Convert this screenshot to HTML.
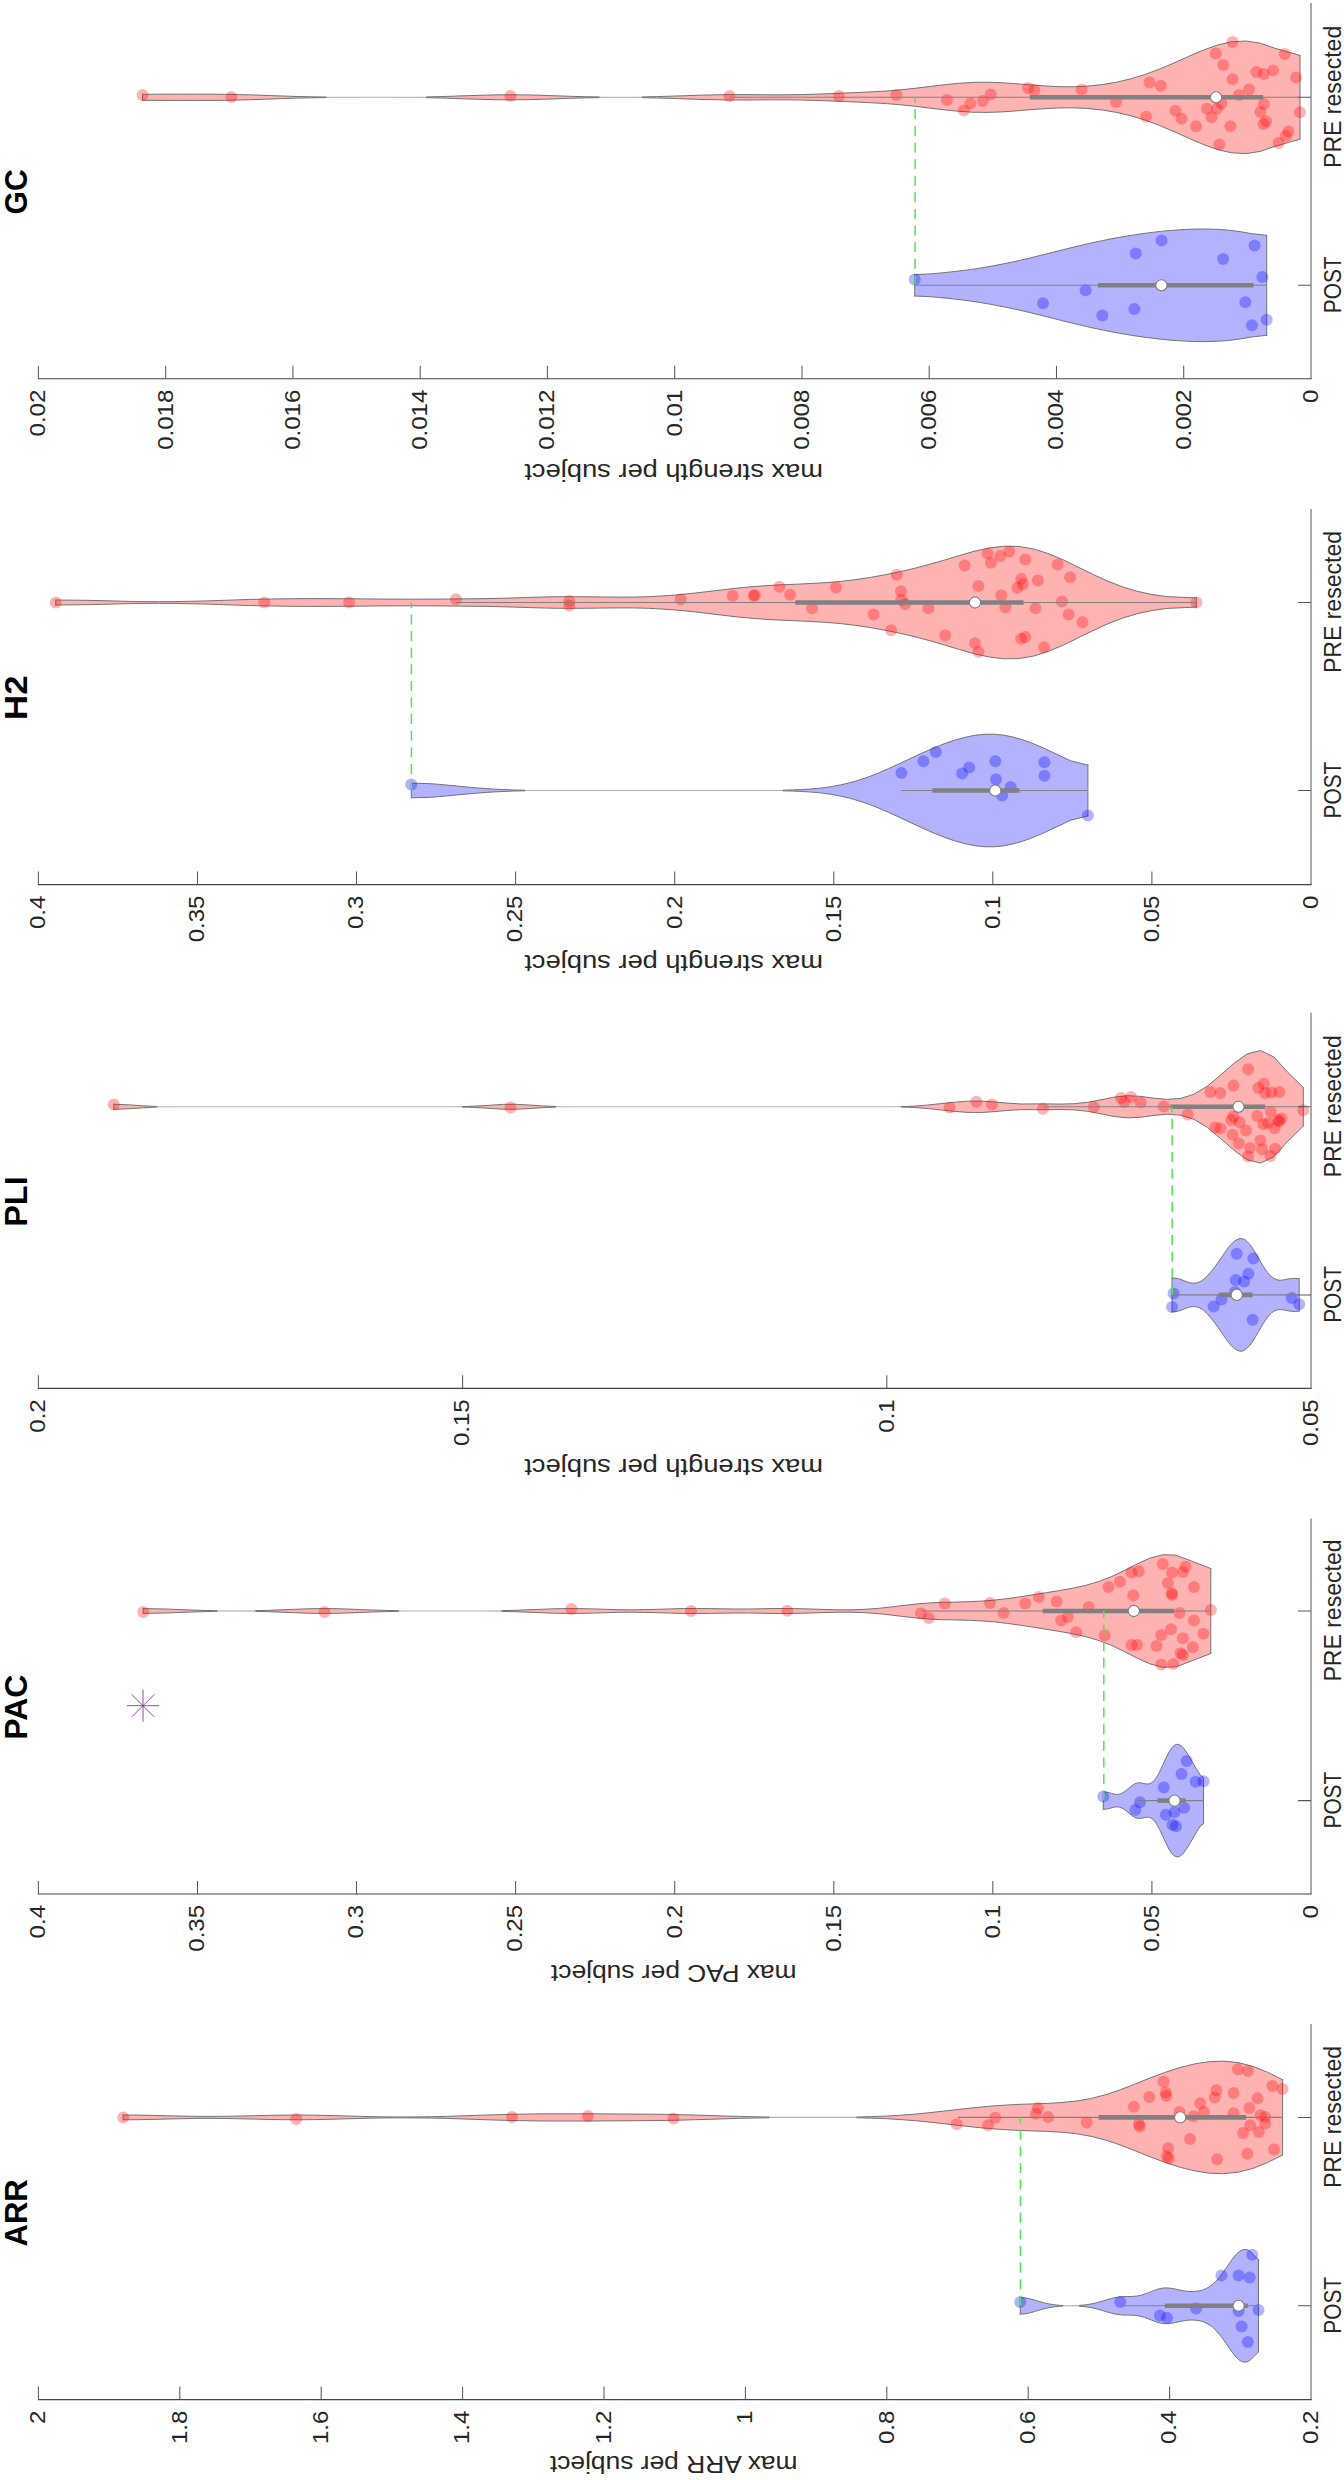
<!DOCTYPE html>
<html><head><meta charset="utf-8"><title>violins</title>
<style>html,body{margin:0;padding:0;background:#fff}svg{display:block}</style></head>
<body>
<svg width="1344" height="2480" viewBox="0 0 1344 2480">
<rect width="1344" height="2480" fill="#fff"/>
<polygon points="914.7,274.6 930.1,273.9 938.4,273.2 946.6,272.4 954.8,271.5 963.1,270.5 971.3,269.4 979.5,268.2 987.8,266.8 996,265.3 1004.2,263.7 1012.5,262 1020.7,260.2 1028.9,258.3 1037.2,256.2 1045.4,254.2 1053.6,252.1 1061.9,250 1070.1,248 1078.3,246 1086.6,244.1 1094.8,242.2 1103.1,240.5 1111.3,238.8 1119.5,237.3 1127.8,235.9 1136,234.6 1144.2,233.4 1152.5,232.4 1160.7,231.4 1168.9,230.6 1177.2,230 1185.4,229.5 1193.6,229.1 1201.9,229 1210.1,229.1 1218.3,229.4 1226.6,230 1234.8,230.9 1243,232.1 1251.3,233.6 1266.7,235.3 1266.7,335.3 1251.3,337 1243,338.5 1234.8,339.7 1226.6,340.6 1218.3,341.2 1210.1,341.5 1201.9,341.6 1193.6,341.5 1185.4,341.1 1177.2,340.6 1168.9,340 1160.7,339.2 1152.5,338.2 1144.2,337.2 1136,336 1127.8,334.7 1119.5,333.3 1111.3,331.8 1103.1,330.1 1094.8,328.4 1086.6,326.5 1078.3,324.6 1070.1,322.6 1061.9,320.6 1053.6,318.5 1045.4,316.4 1037.2,314.4 1028.9,312.3 1020.7,310.4 1012.5,308.6 1004.2,306.9 996,305.3 987.8,303.8 979.5,302.4 971.3,301.2 963.1,300.1 954.8,299.1 946.6,298.2 938.4,297.4 930.1,296.7 914.7,296" fill="#0000ff" fill-opacity="0.3" stroke="none"/>
<path d="M914.7 274.6 L930.1 273.9 L938.4 273.2 L946.6 272.4 L954.8 271.5 L963.1 270.5 L971.3 269.4 L979.5 268.2 L987.8 266.8 L996 265.3 L1004.2 263.7 L1012.5 262 L1020.7 260.2 L1028.9 258.3 L1037.2 256.2 L1045.4 254.2 L1053.6 252.1 L1061.9 250 L1070.1 248 L1078.3 246 L1086.6 244.1 L1094.8 242.2 L1103.1 240.5 L1111.3 238.8 L1119.5 237.3 L1127.8 235.9 L1136 234.6 L1144.2 233.4 L1152.5 232.4 L1160.7 231.4 L1168.9 230.6 L1177.2 230 L1185.4 229.5 L1193.6 229.1 L1201.9 229 L1210.1 229.1 L1218.3 229.4 L1226.6 230 L1234.8 230.9 L1243 232.1 L1251.3 233.6 L1266.7 235.3 M914.7 296 L930.1 296.7 L938.4 297.4 L946.6 298.2 L954.8 299.1 L963.1 300.1 L971.3 301.2 L979.5 302.4 L987.8 303.8 L996 305.3 L1004.2 306.9 L1012.5 308.6 L1020.7 310.4 L1028.9 312.3 L1037.2 314.4 L1045.4 316.4 L1053.6 318.5 L1061.9 320.6 L1070.1 322.6 L1078.3 324.6 L1086.6 326.5 L1094.8 328.4 L1103.1 330.1 L1111.3 331.8 L1119.5 333.3 L1127.8 334.7 L1136 336 L1144.2 337.2 L1152.5 338.2 L1160.7 339.2 L1168.9 340 L1177.2 340.6 L1185.4 341.1 L1193.6 341.5 L1201.9 341.6 L1210.1 341.5 L1218.3 341.2 L1226.6 340.6 L1234.8 339.7 L1243 338.5 L1251.3 337 L1266.7 335.3 M914.7 274.6 V296 M1266.7 235.3 V335.3" fill="none" stroke="#737373" stroke-width="1" stroke-linejoin="round" stroke-linecap="round"/>
<g fill="#0000ff" fill-opacity="0.3">
<circle cx="914.7" cy="279.4" r="6.0"/>
<circle cx="1043" cy="303.3" r="6.0"/>
<circle cx="1085.6" cy="290.2" r="6.0"/>
<circle cx="1102.3" cy="315.4" r="6.0"/>
<circle cx="1135.7" cy="253.5" r="6.0"/>
<circle cx="1134.4" cy="308.9" r="6.0"/>
<circle cx="1161.6" cy="240.4" r="6.0"/>
<circle cx="1223.1" cy="259.1" r="6.0"/>
<circle cx="1254.6" cy="245.4" r="6.0"/>
<circle cx="1262.4" cy="277.1" r="6.0"/>
<circle cx="1245.4" cy="302.3" r="6.0"/>
<circle cx="1251.9" cy="325.2" r="6.0"/>
<circle cx="1266.7" cy="319.7" r="6.0"/>
</g>
<line x1="914.7" y1="285.3" x2="1266.7" y2="285.3" stroke="#808080" stroke-width="1.1"/>
<line x1="1098" y1="285.3" x2="1253.6" y2="285.3" stroke="#808080" stroke-width="4.6"/>
<circle cx="1161.4" cy="285.3" r="5.6" fill="#fff" stroke="#808080" stroke-width="1.1"/>
<polygon points="142.5,94.3 167.8,94.2 182.2,94.2 196.6,94.2 211,94.2 225.3,94.3 239.7,94.6 254.1,95 268.5,95.5 282.8,96 297.2,96.5 311.6,96.8 326,97 340.3,97.2 354.7,97.2 369.1,97.3 383.5,97.3 397.8,97.2 412.2,97.1 426.6,96.9 440.9,96.6 455.3,96.1 469.7,95.6 484.1,95.2 498.4,94.8 512.8,94.8 527.2,94.9 541.6,95.3 555.9,95.8 570.3,96.3 584.7,96.7 599.1,96.9 613.4,97 627.8,97 642.2,96.9 656.6,96.6 670.9,96.2 685.3,95.7 699.7,95.2 714.1,94.9 728.4,94.6 742.8,94.6 757.2,94.7 771.6,94.8 785.9,94.8 800.3,94.6 814.7,94.2 829.1,93.7 843.4,93.1 857.8,92.5 872.2,91.8 886.6,91 900.9,89.8 915.3,88.3 929.7,86.5 944.1,84.8 958.4,83.3 972.8,82.4 987.2,82.2 1001.6,82.7 1015.9,83.7 1030.3,84.9 1044.7,85.9 1059,86.7 1073.4,86.8 1087.8,86.1 1102.2,84.6 1116.5,82.2 1130.9,78.8 1145.3,74.4 1159.7,69 1174,63 1188.4,56.5 1202.8,50.3 1217.2,45.1 1231.5,41.8 1245.9,41 1260.3,43.2 1274.7,48.2 1300,55.4 1300,139.2 1274.7,146.4 1260.3,151.4 1245.9,153.6 1231.5,152.8 1217.2,149.5 1202.8,144.3 1188.4,138.1 1174,131.6 1159.7,125.6 1145.3,120.2 1130.9,115.8 1116.5,112.4 1102.2,110 1087.8,108.5 1073.4,107.8 1059,107.9 1044.7,108.7 1030.3,109.7 1015.9,110.9 1001.6,111.9 987.2,112.4 972.8,112.2 958.4,111.3 944.1,109.8 929.7,108.1 915.3,106.3 900.9,104.8 886.6,103.6 872.2,102.8 857.8,102.1 843.4,101.5 829.1,100.9 814.7,100.4 800.3,100 785.9,99.8 771.6,99.8 757.2,99.9 742.8,100 728.4,100 714.1,99.7 699.7,99.4 685.3,98.9 670.9,98.4 656.6,98 642.2,97.7 627.8,97.6 613.4,97.6 599.1,97.7 584.7,97.9 570.3,98.3 555.9,98.8 541.6,99.3 527.2,99.7 512.8,99.8 498.4,99.8 484.1,99.4 469.7,99 455.3,98.5 440.9,98 426.6,97.7 412.2,97.5 397.8,97.4 383.5,97.3 369.1,97.3 354.7,97.4 340.3,97.4 326,97.6 311.6,97.8 297.2,98.1 282.8,98.6 268.5,99.1 254.1,99.6 239.7,100 225.3,100.3 211,100.4 196.6,100.4 182.2,100.4 167.8,100.4 142.5,100.3" fill="#ff0000" fill-opacity="0.3" stroke="none"/>
<path d="M326 97.3 H426.6 M599.1 97.3 H642.2" fill="none" stroke="#b4b4b4" stroke-width="1.1"/>
<path d="M142.5 94.3 L167.8 94.2 L182.2 94.2 L196.6 94.2 L211 94.2 L225.3 94.3 L239.7 94.6 L254.1 95 L268.5 95.5 L282.8 96 L297.2 96.5 L311.6 96.8 L326 97 M142.5 100.3 L167.8 100.4 L182.2 100.4 L196.6 100.4 L211 100.4 L225.3 100.3 L239.7 100 L254.1 99.6 L268.5 99.1 L282.8 98.6 L297.2 98.1 L311.6 97.8 L326 97.6 M426.6 96.9 L440.9 96.6 L455.3 96.1 L469.7 95.6 L484.1 95.2 L498.4 94.8 L512.8 94.8 L527.2 94.9 L541.6 95.3 L555.9 95.8 L570.3 96.3 L584.7 96.7 L599.1 96.9 M426.6 97.7 L440.9 98 L455.3 98.5 L469.7 99 L484.1 99.4 L498.4 99.8 L512.8 99.8 L527.2 99.7 L541.6 99.3 L555.9 98.8 L570.3 98.3 L584.7 97.9 L599.1 97.7 M642.2 96.9 L656.6 96.6 L670.9 96.2 L685.3 95.7 L699.7 95.2 L714.1 94.9 L728.4 94.6 L742.8 94.6 L757.2 94.7 L771.6 94.8 L785.9 94.8 L800.3 94.6 L814.7 94.2 L829.1 93.7 L843.4 93.1 L857.8 92.5 L872.2 91.8 L886.6 91 L900.9 89.8 L915.3 88.3 L929.7 86.5 L944.1 84.8 L958.4 83.3 L972.8 82.4 L987.2 82.2 L1001.6 82.7 L1015.9 83.7 L1030.3 84.9 L1044.7 85.9 L1059 86.7 L1073.4 86.8 L1087.8 86.1 L1102.2 84.6 L1116.5 82.2 L1130.9 78.8 L1145.3 74.4 L1159.7 69 L1174 63 L1188.4 56.5 L1202.8 50.3 L1217.2 45.1 L1231.5 41.8 L1245.9 41 L1260.3 43.2 L1274.7 48.2 L1300 55.4 M642.2 97.7 L656.6 98 L670.9 98.4 L685.3 98.9 L699.7 99.4 L714.1 99.7 L728.4 100 L742.8 100 L757.2 99.9 L771.6 99.8 L785.9 99.8 L800.3 100 L814.7 100.4 L829.1 100.9 L843.4 101.5 L857.8 102.1 L872.2 102.8 L886.6 103.6 L900.9 104.8 L915.3 106.3 L929.7 108.1 L944.1 109.8 L958.4 111.3 L972.8 112.2 L987.2 112.4 L1001.6 111.9 L1015.9 110.9 L1030.3 109.7 L1044.7 108.7 L1059 107.9 L1073.4 107.8 L1087.8 108.5 L1102.2 110 L1116.5 112.4 L1130.9 115.8 L1145.3 120.2 L1159.7 125.6 L1174 131.6 L1188.4 138.1 L1202.8 144.3 L1217.2 149.5 L1231.5 152.8 L1245.9 153.6 L1260.3 151.4 L1274.7 146.4 L1300 139.2 M142.5 94.3 V100.3 M1300 55.4 V139.2" fill="none" stroke="#737373" stroke-width="1" stroke-linejoin="round" stroke-linecap="round"/>
<g fill="#ff0000" fill-opacity="0.3">
<circle cx="142.5" cy="95" r="6.0"/>
<circle cx="231.3" cy="97" r="6.0"/>
<circle cx="510.4" cy="96" r="6.0"/>
<circle cx="729.5" cy="96" r="6.0"/>
<circle cx="839" cy="96" r="6.0"/>
<circle cx="896.3" cy="95" r="6.0"/>
<circle cx="947" cy="100" r="6.0"/>
<circle cx="963.8" cy="110.6" r="6.0"/>
<circle cx="970.4" cy="103.5" r="6.0"/>
<circle cx="982.7" cy="101" r="6.0"/>
<circle cx="990.7" cy="94.5" r="6.0"/>
<circle cx="1028.1" cy="88" r="6.0"/>
<circle cx="1034.4" cy="90" r="6.0"/>
<circle cx="1081.6" cy="89.5" r="6.0"/>
<circle cx="1232.5" cy="42" r="6.0"/>
<circle cx="1215.7" cy="53.6" r="6.0"/>
<circle cx="1223.2" cy="65" r="6.0"/>
<circle cx="1284.8" cy="53.9" r="6.0"/>
<circle cx="1256.4" cy="72.1" r="6.0"/>
<circle cx="1263.9" cy="73.9" r="6.0"/>
<circle cx="1273.2" cy="70.4" r="6.0"/>
<circle cx="1296.1" cy="77.5" r="6.0"/>
<circle cx="1232.5" cy="79.3" r="6.0"/>
<circle cx="1149.5" cy="82.5" r="6.0"/>
<circle cx="1160.7" cy="85.7" r="6.0"/>
<circle cx="1249.1" cy="89.6" r="6.0"/>
<circle cx="1238.9" cy="95" r="6.0"/>
<circle cx="1116.1" cy="102.1" r="6.0"/>
<circle cx="1221.4" cy="103.6" r="6.0"/>
<circle cx="1206.8" cy="108.8" r="6.0"/>
<circle cx="1217" cy="108.8" r="6.0"/>
<circle cx="1175.4" cy="110.7" r="6.0"/>
<circle cx="1211.6" cy="117.3" r="6.0"/>
<circle cx="1146.1" cy="116.8" r="6.0"/>
<circle cx="1181.6" cy="118.8" r="6.0"/>
<circle cx="1196.1" cy="126.3" r="6.0"/>
<circle cx="1230.4" cy="126.3" r="6.0"/>
<circle cx="1219.3" cy="144.6" r="6.0"/>
<circle cx="1263.9" cy="103.9" r="6.0"/>
<circle cx="1260.4" cy="112" r="6.0"/>
<circle cx="1266.1" cy="121.3" r="6.0"/>
<circle cx="1263.4" cy="124.1" r="6.0"/>
<circle cx="1300" cy="112.3" r="6.0"/>
<circle cx="1288.4" cy="131.6" r="6.0"/>
<circle cx="1285.7" cy="136.1" r="6.0"/>
<circle cx="1278.6" cy="142.9" r="6.0"/>
</g>
<line x1="729.5" y1="97.3" x2="1300" y2="97.3" stroke="#808080" stroke-width="1.1"/>
<line x1="1029.7" y1="97.3" x2="1263.2" y2="97.3" stroke="#808080" stroke-width="4.6"/>
<circle cx="1216.1" cy="97.3" r="5.6" fill="#fff" stroke="#808080" stroke-width="1.1"/>
<line x1="915.1" y1="285.3" x2="915.1" y2="97.3" stroke="#52e452" stroke-width="1.5" stroke-dasharray="10 6.6"/>
<path d="M1311 378.7 V3.1" fill="none" stroke="#959595" stroke-width="1.6"/>
<path d="M37.9 378.7 H1311.7" fill="none" stroke="#444" stroke-width="1.15"/>
<path d="M38.4 378.7 v-13 M165.7 378.7 v-13 M292.9 378.7 v-13 M420.2 378.7 v-13 M547.4 378.7 v-13 M674.7 378.7 v-13 M802 378.7 v-13 M929.2 378.7 v-13 M1056.5 378.7 v-13 M1183.7 378.7 v-13 M1311 97.3 h-13 M1311 285.3 h-13" fill="none" stroke="#5a5a5a" stroke-width="1.05"/>
<g font-family="Liberation Sans, sans-serif" font-size="22.1" fill="#262626">
<text transform="translate(45.2 389.7) rotate(-90)" x="-46.7" y="0" textLength="46.7" lengthAdjust="spacingAndGlyphs">0.02</text>
<text transform="translate(172.5 389.7) rotate(-90)" x="-60.1" y="0" textLength="60.1" lengthAdjust="spacingAndGlyphs">0.018</text>
<text transform="translate(299.7 389.7) rotate(-90)" x="-60.1" y="0" textLength="60.1" lengthAdjust="spacingAndGlyphs">0.016</text>
<text transform="translate(427 389.7) rotate(-90)" x="-60.1" y="0" textLength="60.1" lengthAdjust="spacingAndGlyphs">0.014</text>
<text transform="translate(554.2 389.7) rotate(-90)" x="-60.1" y="0" textLength="60.1" lengthAdjust="spacingAndGlyphs">0.012</text>
<text transform="translate(681.5 389.7) rotate(-90)" x="-46.7" y="0" textLength="46.7" lengthAdjust="spacingAndGlyphs">0.01</text>
<text transform="translate(808.8 389.7) rotate(-90)" x="-60.1" y="0" textLength="60.1" lengthAdjust="spacingAndGlyphs">0.008</text>
<text transform="translate(936 389.7) rotate(-90)" x="-60.1" y="0" textLength="60.1" lengthAdjust="spacingAndGlyphs">0.006</text>
<text transform="translate(1063.3 389.7) rotate(-90)" x="-60.1" y="0" textLength="60.1" lengthAdjust="spacingAndGlyphs">0.004</text>
<text transform="translate(1190.5 389.7) rotate(-90)" x="-60.1" y="0" textLength="60.1" lengthAdjust="spacingAndGlyphs">0.002</text>
<text transform="translate(1317.8 389.7) rotate(-90)" x="-13.4" y="0" textLength="13.4" lengthAdjust="spacingAndGlyphs">0</text>
<text font-size="23.5" transform="translate(1340.8 284.8) rotate(-90)" x="-28.4" y="0" textLength="56.7" lengthAdjust="spacingAndGlyphs">POST</text>
<text font-size="23.5" transform="translate(1340.8 96.8) rotate(-90)" x="-71.1" y="0" textLength="142.1" lengthAdjust="spacingAndGlyphs">PRE resected</text>
</g>
<text font-family="Liberation Sans, sans-serif" font-size="24.8" fill="#262626" transform="translate(673.7 463.7) rotate(180)" x="-149.3" y="0" textLength="298.6" lengthAdjust="spacingAndGlyphs">max strength per subject</text>
<text font-family="Liberation Sans, sans-serif" font-weight="bold" font-size="31.6" fill="#000" transform="translate(26.5 191.9) rotate(-90)" x="-22.5" y="0" textLength="45.1" lengthAdjust="spacingAndGlyphs">GC</text>
<polygon points="411.3,783.2 428.8,783.6 438.4,784.3 448,785.2 457.5,786.1 467.1,787 476.7,787.9 486.3,788.6 495.8,789.2 505.4,789.6 515,790 524.6,790.2 534.1,790.3 543.7,790.4 553.3,790.4 562.9,790.5 572.4,790.5 582,790.5 591.6,790.5 601.2,790.5 610.7,790.5 620.3,790.5 629.9,790.5 639.5,790.5 649.1,790.5 658.6,790.5 668.2,790.5 677.8,790.5 687.4,790.5 696.9,790.5 706.5,790.5 716.1,790.5 725.7,790.5 735.2,790.5 744.8,790.5 754.4,790.5 764,790.4 773.5,790.3 783.1,790.2 792.7,789.9 802.3,789.5 811.8,788.9 821.4,788 831,786.7 840.6,784.9 850.1,782.7 859.7,779.9 869.3,776.6 878.9,772.8 888.5,768.7 898,764.3 907.6,759.8 917.2,755.3 926.8,751 936.3,746.9 945.9,743.1 955.5,739.9 965.1,737.3 974.6,735.3 984.2,734.3 993.8,734.2 1003.4,735.1 1012.9,737 1022.5,739.7 1032.1,743.2 1041.7,747.2 1051.2,751.6 1060.8,756.1 1070.4,760.7 1087.9,765.1 1087.9,815.9 1070.4,820.3 1060.8,824.9 1051.2,829.4 1041.7,833.8 1032.1,837.8 1022.5,841.3 1012.9,844 1003.4,845.9 993.8,846.8 984.2,846.7 974.6,845.7 965.1,843.7 955.5,841.1 945.9,837.9 936.3,834.1 926.8,830 917.2,825.7 907.6,821.2 898,816.7 888.5,812.3 878.9,808.2 869.3,804.4 859.7,801.1 850.1,798.3 840.6,796.1 831,794.3 821.4,793 811.8,792.1 802.3,791.5 792.7,791.1 783.1,790.8 773.5,790.7 764,790.6 754.4,790.5 744.8,790.5 735.2,790.5 725.7,790.5 716.1,790.5 706.5,790.5 696.9,790.5 687.4,790.5 677.8,790.5 668.2,790.5 658.6,790.5 649.1,790.5 639.5,790.5 629.9,790.5 620.3,790.5 610.7,790.5 601.2,790.5 591.6,790.5 582,790.5 572.4,790.5 562.9,790.5 553.3,790.6 543.7,790.6 534.1,790.7 524.6,790.8 515,791 505.4,791.4 495.8,791.8 486.3,792.4 476.7,793.1 467.1,794 457.5,794.9 448,795.8 438.4,796.7 428.8,797.4 411.3,797.8" fill="#0000ff" fill-opacity="0.3" stroke="none"/>
<path d="M524.6 790.5 H783.1" fill="none" stroke="#b4b4b4" stroke-width="1.1"/>
<path d="M411.3 783.2 L428.8 783.6 L438.4 784.3 L448 785.2 L457.5 786.1 L467.1 787 L476.7 787.9 L486.3 788.6 L495.8 789.2 L505.4 789.6 L515 790 L524.6 790.2 M411.3 797.8 L428.8 797.4 L438.4 796.7 L448 795.8 L457.5 794.9 L467.1 794 L476.7 793.1 L486.3 792.4 L495.8 791.8 L505.4 791.4 L515 791 L524.6 790.8 M783.1 790.2 L792.7 789.9 L802.3 789.5 L811.8 788.9 L821.4 788 L831 786.7 L840.6 784.9 L850.1 782.7 L859.7 779.9 L869.3 776.6 L878.9 772.8 L888.5 768.7 L898 764.3 L907.6 759.8 L917.2 755.3 L926.8 751 L936.3 746.9 L945.9 743.1 L955.5 739.9 L965.1 737.3 L974.6 735.3 L984.2 734.3 L993.8 734.2 L1003.4 735.1 L1012.9 737 L1022.5 739.7 L1032.1 743.2 L1041.7 747.2 L1051.2 751.6 L1060.8 756.1 L1070.4 760.7 L1087.9 765.1 M783.1 790.8 L792.7 791.1 L802.3 791.5 L811.8 792.1 L821.4 793 L831 794.3 L840.6 796.1 L850.1 798.3 L859.7 801.1 L869.3 804.4 L878.9 808.2 L888.5 812.3 L898 816.7 L907.6 821.2 L917.2 825.7 L926.8 830 L936.3 834.1 L945.9 837.9 L955.5 841.1 L965.1 843.7 L974.6 845.7 L984.2 846.7 L993.8 846.8 L1003.4 845.9 L1012.9 844 L1022.5 841.3 L1032.1 837.8 L1041.7 833.8 L1051.2 829.4 L1060.8 824.9 L1070.4 820.3 L1087.9 815.9 M411.3 783.2 V797.8 M1087.9 765.1 V815.9" fill="none" stroke="#737373" stroke-width="1" stroke-linejoin="round" stroke-linecap="round"/>
<g fill="#0000ff" fill-opacity="0.3">
<circle cx="411.3" cy="784.5" r="6.0"/>
<circle cx="901.4" cy="773.1" r="6.0"/>
<circle cx="923.4" cy="761.2" r="6.0"/>
<circle cx="935.8" cy="752.1" r="6.0"/>
<circle cx="962.1" cy="773.6" r="6.0"/>
<circle cx="969.2" cy="767.6" r="6.0"/>
<circle cx="995.3" cy="761.2" r="6.0"/>
<circle cx="996" cy="779.4" r="6.0"/>
<circle cx="1002.1" cy="795.4" r="6.0"/>
<circle cx="1010.7" cy="787" r="6.0"/>
<circle cx="1044.4" cy="762.2" r="6.0"/>
<circle cx="1044.4" cy="775.7" r="6.0"/>
<circle cx="1087.9" cy="815.6" r="6.0"/>
</g>
<line x1="901.4" y1="790.5" x2="1087.4" y2="790.5" stroke="#808080" stroke-width="1.1"/>
<line x1="932.5" y1="790.5" x2="1019.6" y2="790.5" stroke="#808080" stroke-width="4.6"/>
<circle cx="995.3" cy="790.5" r="5.6" fill="#fff" stroke="#808080" stroke-width="1.1"/>
<polygon points="55.8,600 85.4,600.3 100.2,600.6 115,601 129.8,601.4 144.6,601.6 159.4,601.7 174.3,601.6 189.1,601.3 203.9,601 218.7,600.5 233.5,600 248.3,599.5 263.1,599.2 278,598.9 292.8,598.7 307.6,598.6 322.4,598.6 337.2,598.7 352,598.8 366.8,598.9 381.7,599.1 396.5,599.1 411.3,599.2 426.1,599.1 440.9,599.1 455.7,598.9 470.5,598.8 485.4,598.6 500.2,598.3 515,597.9 529.8,597.4 544.6,597 559.4,596.7 574.2,596.7 589.1,596.8 603.9,597 618.7,597.1 633.5,597.1 648.3,596.7 663.1,595.9 678,594.8 692.8,593.3 707.6,591.6 722.4,589.8 737.2,588.1 752,586.7 766.8,585.6 781.7,584.8 796.5,584.2 811.3,583.5 826.1,582.6 840.9,581.4 855.7,579.6 870.5,577.4 885.4,574.7 900.2,571.7 915,568.2 929.8,564.3 944.6,560 959.4,555.5 974.2,551.3 989.1,548 1003.9,546.2 1018.7,546.4 1033.5,548.9 1048.3,553.6 1063.1,559.8 1077.9,567 1092.8,574.3 1107.6,581.1 1122.4,586.8 1137.2,591.3 1152,594.5 1166.8,596.6 1196.4,597.9 1196.4,607.1 1166.8,608.4 1152,610.5 1137.2,613.7 1122.4,618.2 1107.6,623.9 1092.8,630.7 1077.9,638 1063.1,645.2 1048.3,651.4 1033.5,656.1 1018.7,658.6 1003.9,658.8 989.1,657 974.2,653.7 959.4,649.5 944.6,645 929.8,640.7 915,636.8 900.2,633.3 885.4,630.3 870.5,627.6 855.7,625.4 840.9,623.6 826.1,622.4 811.3,621.5 796.5,620.8 781.7,620.2 766.8,619.4 752,618.3 737.2,616.9 722.4,615.2 707.6,613.4 692.8,611.7 678,610.2 663.1,609.1 648.3,608.3 633.5,607.9 618.7,607.9 603.9,608 589.1,608.2 574.2,608.3 559.4,608.3 544.6,608 529.8,607.6 515,607.1 500.2,606.7 485.4,606.4 470.5,606.2 455.7,606.1 440.9,605.9 426.1,605.9 411.3,605.8 396.5,605.9 381.7,605.9 366.8,606.1 352,606.2 337.2,606.3 322.4,606.4 307.6,606.4 292.8,606.3 278,606.1 263.1,605.8 248.3,605.5 233.5,605 218.7,604.5 203.9,604 189.1,603.7 174.3,603.4 159.4,603.3 144.6,603.4 129.8,603.6 115,604 100.2,604.4 85.4,604.7 55.8,605" fill="#ff0000" fill-opacity="0.3" stroke="none"/>
<path d="M55.8 600 L85.4 600.3 L100.2 600.6 L115 601 L129.8 601.4 L144.6 601.6 L159.4 601.7 L174.3 601.6 L189.1 601.3 L203.9 601 L218.7 600.5 L233.5 600 L248.3 599.5 L263.1 599.2 L278 598.9 L292.8 598.7 L307.6 598.6 L322.4 598.6 L337.2 598.7 L352 598.8 L366.8 598.9 L381.7 599.1 L396.5 599.1 L411.3 599.2 L426.1 599.1 L440.9 599.1 L455.7 598.9 L470.5 598.8 L485.4 598.6 L500.2 598.3 L515 597.9 L529.8 597.4 L544.6 597 L559.4 596.7 L574.2 596.7 L589.1 596.8 L603.9 597 L618.7 597.1 L633.5 597.1 L648.3 596.7 L663.1 595.9 L678 594.8 L692.8 593.3 L707.6 591.6 L722.4 589.8 L737.2 588.1 L752 586.7 L766.8 585.6 L781.7 584.8 L796.5 584.2 L811.3 583.5 L826.1 582.6 L840.9 581.4 L855.7 579.6 L870.5 577.4 L885.4 574.7 L900.2 571.7 L915 568.2 L929.8 564.3 L944.6 560 L959.4 555.5 L974.2 551.3 L989.1 548 L1003.9 546.2 L1018.7 546.4 L1033.5 548.9 L1048.3 553.6 L1063.1 559.8 L1077.9 567 L1092.8 574.3 L1107.6 581.1 L1122.4 586.8 L1137.2 591.3 L1152 594.5 L1166.8 596.6 L1196.4 597.9 M55.8 605 L85.4 604.7 L100.2 604.4 L115 604 L129.8 603.6 L144.6 603.4 L159.4 603.3 L174.3 603.4 L189.1 603.7 L203.9 604 L218.7 604.5 L233.5 605 L248.3 605.5 L263.1 605.8 L278 606.1 L292.8 606.3 L307.6 606.4 L322.4 606.4 L337.2 606.3 L352 606.2 L366.8 606.1 L381.7 605.9 L396.5 605.9 L411.3 605.8 L426.1 605.9 L440.9 605.9 L455.7 606.1 L470.5 606.2 L485.4 606.4 L500.2 606.7 L515 607.1 L529.8 607.6 L544.6 608 L559.4 608.3 L574.2 608.3 L589.1 608.2 L603.9 608 L618.7 607.9 L633.5 607.9 L648.3 608.3 L663.1 609.1 L678 610.2 L692.8 611.7 L707.6 613.4 L722.4 615.2 L737.2 616.9 L752 618.3 L766.8 619.4 L781.7 620.2 L796.5 620.8 L811.3 621.5 L826.1 622.4 L840.9 623.6 L855.7 625.4 L870.5 627.6 L885.4 630.3 L900.2 633.3 L915 636.8 L929.8 640.7 L944.6 645 L959.4 649.5 L974.2 653.7 L989.1 657 L1003.9 658.8 L1018.7 658.6 L1033.5 656.1 L1048.3 651.4 L1063.1 645.2 L1077.9 638 L1092.8 630.7 L1107.6 623.9 L1122.4 618.2 L1137.2 613.7 L1152 610.5 L1166.8 608.4 L1196.4 607.1 M55.8 600 V605 M1196.4 597.9 V607.1" fill="none" stroke="#737373" stroke-width="1" stroke-linejoin="round" stroke-linecap="round"/>
<g fill="#ff0000" fill-opacity="0.3">
<circle cx="55.8" cy="602.5" r="6.0"/>
<circle cx="264.3" cy="602.5" r="6.0"/>
<circle cx="349.1" cy="602.5" r="6.0"/>
<circle cx="456" cy="599.3" r="6.0"/>
<circle cx="569.3" cy="601" r="6.0"/>
<circle cx="569.3" cy="605.5" r="6.0"/>
<circle cx="680.7" cy="599.3" r="6.0"/>
<circle cx="732.7" cy="595.7" r="6.0"/>
<circle cx="753.6" cy="595.7" r="6.0"/>
<circle cx="754.8" cy="595" r="6.0"/>
<circle cx="779.5" cy="586.7" r="6.0"/>
<circle cx="790.1" cy="594.8" r="6.0"/>
<circle cx="812" cy="608.3" r="6.0"/>
<circle cx="836" cy="587.4" r="6.0"/>
<circle cx="873.6" cy="614.5" r="6.0"/>
<circle cx="891.1" cy="630.2" r="6.0"/>
<circle cx="896.9" cy="574.8" r="6.0"/>
<circle cx="901" cy="591.2" r="6.0"/>
<circle cx="901.4" cy="599.7" r="6.0"/>
<circle cx="905.1" cy="603.9" r="6.0"/>
<circle cx="928.4" cy="608.3" r="6.0"/>
<circle cx="945.2" cy="635.3" r="6.0"/>
<circle cx="964.7" cy="565.5" r="6.0"/>
<circle cx="978.4" cy="586.1" r="6.0"/>
<circle cx="975" cy="643.2" r="6.0"/>
<circle cx="978.4" cy="651.8" r="6.0"/>
<circle cx="987.6" cy="553.5" r="6.0"/>
<circle cx="991" cy="562.8" r="6.0"/>
<circle cx="1000.3" cy="555.9" r="6.0"/>
<circle cx="1009.2" cy="551.5" r="6.0"/>
<circle cx="1001.3" cy="595.3" r="6.0"/>
<circle cx="1005.4" cy="607.3" r="6.0"/>
<circle cx="1025.3" cy="559.4" r="6.0"/>
<circle cx="1021.2" cy="578.9" r="6.0"/>
<circle cx="1022.9" cy="584.3" r="6.0"/>
<circle cx="1017.4" cy="587.8" r="6.0"/>
<circle cx="1037.9" cy="580.6" r="6.0"/>
<circle cx="1035.5" cy="608.3" r="6.0"/>
<circle cx="1021.2" cy="638.8" r="6.0"/>
<circle cx="1025.3" cy="637.1" r="6.0"/>
<circle cx="1044.1" cy="647.3" r="6.0"/>
<circle cx="1057.8" cy="564.5" r="6.0"/>
<circle cx="1070.1" cy="577.2" r="6.0"/>
<circle cx="1061.9" cy="601.5" r="6.0"/>
<circle cx="1068.7" cy="614.5" r="6.0"/>
<circle cx="1082.4" cy="622.3" r="6.0"/>
<circle cx="1196.4" cy="602.5" r="6.0"/>
</g>
<line x1="456" y1="602.5" x2="1196.4" y2="602.5" stroke="#808080" stroke-width="1.1"/>
<line x1="795.3" y1="602.5" x2="1023.5" y2="602.5" stroke="#808080" stroke-width="4.6"/>
<circle cx="975" cy="602.5" r="5.6" fill="#fff" stroke="#808080" stroke-width="1.1"/>
<line x1="411.4" y1="790.5" x2="411.4" y2="602.5" stroke="#52e452" stroke-width="1.5" stroke-dasharray="10 6.6"/>
<path d="M1311 884.6 V509" fill="none" stroke="#959595" stroke-width="1.6"/>
<path d="M37.9 884.6 H1311.7" fill="none" stroke="#444" stroke-width="1.15"/>
<path d="M38.4 884.6 v-13 M197.5 884.6 v-13 M356.5 884.6 v-13 M515.6 884.6 v-13 M674.7 884.6 v-13 M833.8 884.6 v-13 M992.8 884.6 v-13 M1151.9 884.6 v-13 M1311 602.5 h-13 M1311 790.5 h-13" fill="none" stroke="#5a5a5a" stroke-width="1.05"/>
<g font-family="Liberation Sans, sans-serif" font-size="22.1" fill="#262626">
<text transform="translate(45.2 895.6) rotate(-90)" x="-33.4" y="0" textLength="33.4" lengthAdjust="spacingAndGlyphs">0.4</text>
<text transform="translate(204.3 895.6) rotate(-90)" x="-46.7" y="0" textLength="46.7" lengthAdjust="spacingAndGlyphs">0.35</text>
<text transform="translate(363.3 895.6) rotate(-90)" x="-33.4" y="0" textLength="33.4" lengthAdjust="spacingAndGlyphs">0.3</text>
<text transform="translate(522.4 895.6) rotate(-90)" x="-46.7" y="0" textLength="46.7" lengthAdjust="spacingAndGlyphs">0.25</text>
<text transform="translate(681.5 895.6) rotate(-90)" x="-33.4" y="0" textLength="33.4" lengthAdjust="spacingAndGlyphs">0.2</text>
<text transform="translate(840.6 895.6) rotate(-90)" x="-46.7" y="0" textLength="46.7" lengthAdjust="spacingAndGlyphs">0.15</text>
<text transform="translate(999.6 895.6) rotate(-90)" x="-33.4" y="0" textLength="33.4" lengthAdjust="spacingAndGlyphs">0.1</text>
<text transform="translate(1158.7 895.6) rotate(-90)" x="-46.7" y="0" textLength="46.7" lengthAdjust="spacingAndGlyphs">0.05</text>
<text transform="translate(1317.8 895.6) rotate(-90)" x="-13.4" y="0" textLength="13.4" lengthAdjust="spacingAndGlyphs">0</text>
<text font-size="23.5" transform="translate(1340.8 790) rotate(-90)" x="-28.4" y="0" textLength="56.7" lengthAdjust="spacingAndGlyphs">POST</text>
<text font-size="23.5" transform="translate(1340.8 602) rotate(-90)" x="-71.1" y="0" textLength="142.1" lengthAdjust="spacingAndGlyphs">PRE resected</text>
</g>
<text font-family="Liberation Sans, sans-serif" font-size="24.8" fill="#262626" transform="translate(673.7 955.2) rotate(180)" x="-149.3" y="0" textLength="298.6" lengthAdjust="spacingAndGlyphs">max strength per subject</text>
<text font-family="Liberation Sans, sans-serif" font-weight="bold" font-size="31.6" fill="#000" transform="translate(26.5 697.8) rotate(-90)" x="-22.2" y="0" textLength="44.5" lengthAdjust="spacingAndGlyphs">H2</text>
<polygon points="1172,1278 1175.4,1278.1 1177.5,1278.5 1179.7,1279.1 1181.9,1279.9 1184.1,1280.8 1186.3,1281.7 1188.5,1282.4 1190.7,1282.9 1192.9,1283.2 1195.1,1283.2 1197.3,1282.7 1199.5,1281.9 1201.6,1280.7 1203.8,1279.2 1206,1277.3 1208.2,1275 1210.4,1272.5 1212.6,1269.8 1214.8,1266.9 1217,1263.8 1219.2,1260.7 1221.4,1257.5 1223.6,1254.3 1225.7,1251.2 1227.9,1248.2 1230.1,1245.5 1232.3,1243.1 1234.5,1241.2 1236.7,1239.7 1238.9,1238.8 1241.1,1238.6 1243.3,1239 1245.5,1240.2 1247.6,1242 1249.8,1244.4 1252,1247.4 1254.2,1250.8 1256.4,1254.5 1258.6,1258.3 1260.8,1262.2 1263,1265.9 1265.2,1269.3 1267.4,1272.3 1269.6,1274.9 1271.7,1277 1273.9,1278.5 1276.1,1279.5 1278.3,1280.1 1280.5,1280.2 1282.7,1280 1284.9,1279.7 1287.1,1279.2 1289.3,1278.8 1291.5,1278.5 1293.7,1278.3 1295.8,1278.4 1299.2,1278.7 1299.2,1311.1 1295.8,1311.4 1293.7,1311.5 1291.5,1311.3 1289.3,1311 1287.1,1310.6 1284.9,1310.1 1282.7,1309.8 1280.5,1309.6 1278.3,1309.7 1276.1,1310.3 1273.9,1311.3 1271.7,1312.8 1269.6,1314.9 1267.4,1317.5 1265.2,1320.5 1263,1323.9 1260.8,1327.6 1258.6,1331.5 1256.4,1335.3 1254.2,1339 1252,1342.4 1249.8,1345.4 1247.6,1347.8 1245.5,1349.6 1243.3,1350.8 1241.1,1351.2 1238.9,1351 1236.7,1350.1 1234.5,1348.6 1232.3,1346.7 1230.1,1344.3 1227.9,1341.6 1225.7,1338.6 1223.6,1335.5 1221.4,1332.3 1219.2,1329.1 1217,1326 1214.8,1322.9 1212.6,1320 1210.4,1317.3 1208.2,1314.8 1206,1312.5 1203.8,1310.6 1201.6,1309.1 1199.5,1307.9 1197.3,1307.1 1195.1,1306.6 1192.9,1306.6 1190.7,1306.9 1188.5,1307.4 1186.3,1308.1 1184.1,1309 1181.9,1309.9 1179.7,1310.7 1177.5,1311.3 1175.4,1311.7 1172,1311.8" fill="#0000ff" fill-opacity="0.3" stroke="none"/>
<path d="M1172 1278 L1175.4 1278.1 L1177.5 1278.5 L1179.7 1279.1 L1181.9 1279.9 L1184.1 1280.8 L1186.3 1281.7 L1188.5 1282.4 L1190.7 1282.9 L1192.9 1283.2 L1195.1 1283.2 L1197.3 1282.7 L1199.5 1281.9 L1201.6 1280.7 L1203.8 1279.2 L1206 1277.3 L1208.2 1275 L1210.4 1272.5 L1212.6 1269.8 L1214.8 1266.9 L1217 1263.8 L1219.2 1260.7 L1221.4 1257.5 L1223.6 1254.3 L1225.7 1251.2 L1227.9 1248.2 L1230.1 1245.5 L1232.3 1243.1 L1234.5 1241.2 L1236.7 1239.7 L1238.9 1238.8 L1241.1 1238.6 L1243.3 1239 L1245.5 1240.2 L1247.6 1242 L1249.8 1244.4 L1252 1247.4 L1254.2 1250.8 L1256.4 1254.5 L1258.6 1258.3 L1260.8 1262.2 L1263 1265.9 L1265.2 1269.3 L1267.4 1272.3 L1269.6 1274.9 L1271.7 1277 L1273.9 1278.5 L1276.1 1279.5 L1278.3 1280.1 L1280.5 1280.2 L1282.7 1280 L1284.9 1279.7 L1287.1 1279.2 L1289.3 1278.8 L1291.5 1278.5 L1293.7 1278.3 L1295.8 1278.4 L1299.2 1278.7 M1172 1311.8 L1175.4 1311.7 L1177.5 1311.3 L1179.7 1310.7 L1181.9 1309.9 L1184.1 1309 L1186.3 1308.1 L1188.5 1307.4 L1190.7 1306.9 L1192.9 1306.6 L1195.1 1306.6 L1197.3 1307.1 L1199.5 1307.9 L1201.6 1309.1 L1203.8 1310.6 L1206 1312.5 L1208.2 1314.8 L1210.4 1317.3 L1212.6 1320 L1214.8 1322.9 L1217 1326 L1219.2 1329.1 L1221.4 1332.3 L1223.6 1335.5 L1225.7 1338.6 L1227.9 1341.6 L1230.1 1344.3 L1232.3 1346.7 L1234.5 1348.6 L1236.7 1350.1 L1238.9 1351 L1241.1 1351.2 L1243.3 1350.8 L1245.5 1349.6 L1247.6 1347.8 L1249.8 1345.4 L1252 1342.4 L1254.2 1339 L1256.4 1335.3 L1258.6 1331.5 L1260.8 1327.6 L1263 1323.9 L1265.2 1320.5 L1267.4 1317.5 L1269.6 1314.9 L1271.7 1312.8 L1273.9 1311.3 L1276.1 1310.3 L1278.3 1309.7 L1280.5 1309.6 L1282.7 1309.8 L1284.9 1310.1 L1287.1 1310.6 L1289.3 1311 L1291.5 1311.3 L1293.7 1311.5 L1295.8 1311.4 L1299.2 1311.1 M1172 1278 V1311.8 M1299.2 1278.7 V1311.1" fill="none" stroke="#737373" stroke-width="1" stroke-linejoin="round" stroke-linecap="round"/>
<g fill="#0000ff" fill-opacity="0.3">
<circle cx="1173.5" cy="1293.5" r="6.0"/>
<circle cx="1172" cy="1307.1" r="6.0"/>
<circle cx="1213.7" cy="1306.4" r="6.0"/>
<circle cx="1221.5" cy="1299.4" r="6.0"/>
<circle cx="1236.7" cy="1253.7" r="6.0"/>
<circle cx="1235.7" cy="1280.1" r="6.0"/>
<circle cx="1244.2" cy="1281.5" r="6.0"/>
<circle cx="1248.3" cy="1273.8" r="6.0"/>
<circle cx="1253.4" cy="1258.5" r="6.0"/>
<circle cx="1252.6" cy="1319.8" r="6.0"/>
<circle cx="1291.8" cy="1297.9" r="6.0"/>
<circle cx="1299.2" cy="1304.2" r="6.0"/>
<circle cx="1235" cy="1292" r="6.0"/>
</g>
<line x1="1172.3" y1="1294.9" x2="1299.2" y2="1294.9" stroke="#808080" stroke-width="1.1"/>
<line x1="1218.9" y1="1294.9" x2="1252.6" y2="1294.9" stroke="#808080" stroke-width="4.6"/>
<circle cx="1236.7" cy="1294.9" r="5.6" fill="#fff" stroke="#808080" stroke-width="1.1"/>
<polygon points="113.8,1104.2 129.9,1104.9 143.2,1105.8 156.5,1106.5 169.8,1106.7 183.1,1106.8 196.4,1106.8 209.7,1106.8 223,1106.8 236.3,1106.8 249.6,1106.8 262.9,1106.8 276.2,1106.8 289.5,1106.8 302.8,1106.8 316.1,1106.8 329.4,1106.8 342.7,1106.8 356,1106.8 369.3,1106.8 382.6,1106.8 395.9,1106.8 409.2,1106.8 422.5,1106.8 435.8,1106.8 449.1,1106.8 462.4,1106.6 475.7,1106.1 489,1105.3 502.3,1104.4 515.6,1104.3 528.9,1105 542.2,1105.9 555.5,1106.5 568.8,1106.7 582.2,1106.8 595.5,1106.8 608.8,1106.8 622.1,1106.8 635.4,1106.8 648.7,1106.8 662,1106.8 675.3,1106.8 688.6,1106.8 701.9,1106.8 715.2,1106.8 728.5,1106.8 741.8,1106.8 755.1,1106.8 768.4,1106.8 781.7,1106.8 795,1106.8 808.3,1106.8 821.6,1106.8 834.9,1106.8 848.2,1106.8 861.5,1106.8 874.8,1106.8 888.1,1106.8 901.4,1106.6 914.7,1106.1 928,1105 941.3,1103.6 954.6,1102.2 967.9,1101.2 981.2,1101.1 994.5,1102 1007.8,1103.2 1021.1,1104 1034.4,1103.9 1047.7,1103.9 1061,1104.1 1074.3,1103.7 1087.6,1102.3 1101,1099.8 1114.3,1097.1 1127.6,1095.7 1140.9,1096.4 1154.2,1098.2 1167.5,1099.4 1180.8,1098.4 1194.1,1094.2 1207.4,1086.1 1220.7,1075 1234,1063.3 1247.3,1053.8 1260.6,1050.5 1273.9,1057 1287.2,1071.7 1303.3,1087.5 1303.3,1126.1 1287.2,1141.9 1273.9,1156.6 1260.6,1163.1 1247.3,1159.8 1234,1150.3 1220.7,1138.6 1207.4,1127.5 1194.1,1119.4 1180.8,1115.2 1167.5,1114.2 1154.2,1115.4 1140.9,1117.2 1127.6,1117.9 1114.3,1116.5 1101,1113.8 1087.6,1111.3 1074.3,1109.9 1061,1109.5 1047.7,1109.7 1034.4,1109.7 1021.1,1109.6 1007.8,1110.4 994.5,1111.6 981.2,1112.5 967.9,1112.4 954.6,1111.4 941.3,1110 928,1108.6 914.7,1107.5 901.4,1107 888.1,1106.8 874.8,1106.8 861.5,1106.8 848.2,1106.8 834.9,1106.8 821.6,1106.8 808.3,1106.8 795,1106.8 781.7,1106.8 768.4,1106.8 755.1,1106.8 741.8,1106.8 728.5,1106.8 715.2,1106.8 701.9,1106.8 688.6,1106.8 675.3,1106.8 662,1106.8 648.7,1106.8 635.4,1106.8 622.1,1106.8 608.8,1106.8 595.5,1106.8 582.2,1106.8 568.8,1106.9 555.5,1107.1 542.2,1107.7 528.9,1108.6 515.6,1109.3 502.3,1109.2 489,1108.3 475.7,1107.5 462.4,1107 449.1,1106.8 435.8,1106.8 422.5,1106.8 409.2,1106.8 395.9,1106.8 382.6,1106.8 369.3,1106.8 356,1106.8 342.7,1106.8 329.4,1106.8 316.1,1106.8 302.8,1106.8 289.5,1106.8 276.2,1106.8 262.9,1106.8 249.6,1106.8 236.3,1106.8 223,1106.8 209.7,1106.8 196.4,1106.8 183.1,1106.8 169.8,1106.9 156.5,1107.1 143.2,1107.8 129.9,1108.7 113.8,1109.4" fill="#ff0000" fill-opacity="0.3" stroke="none"/>
<path d="M156.5 1106.8 H462.4 M555.5 1106.8 H901.4" fill="none" stroke="#b4b4b4" stroke-width="1.1"/>
<path d="M113.8 1104.2 L129.9 1104.9 L143.2 1105.8 L156.5 1106.5 M113.8 1109.4 L129.9 1108.7 L143.2 1107.8 L156.5 1107.1 M462.4 1106.6 L475.7 1106.1 L489 1105.3 L502.3 1104.4 L515.6 1104.3 L528.9 1105 L542.2 1105.9 L555.5 1106.5 M462.4 1107 L475.7 1107.5 L489 1108.3 L502.3 1109.2 L515.6 1109.3 L528.9 1108.6 L542.2 1107.7 L555.5 1107.1 M901.4 1106.6 L914.7 1106.1 L928 1105 L941.3 1103.6 L954.6 1102.2 L967.9 1101.2 L981.2 1101.1 L994.5 1102 L1007.8 1103.2 L1021.1 1104 L1034.4 1103.9 L1047.7 1103.9 L1061 1104.1 L1074.3 1103.7 L1087.6 1102.3 L1101 1099.8 L1114.3 1097.1 L1127.6 1095.7 L1140.9 1096.4 L1154.2 1098.2 L1167.5 1099.4 L1180.8 1098.4 L1194.1 1094.2 L1207.4 1086.1 L1220.7 1075 L1234 1063.3 L1247.3 1053.8 L1260.6 1050.5 L1273.9 1057 L1287.2 1071.7 L1303.3 1087.5 M901.4 1107 L914.7 1107.5 L928 1108.6 L941.3 1110 L954.6 1111.4 L967.9 1112.4 L981.2 1112.5 L994.5 1111.6 L1007.8 1110.4 L1021.1 1109.6 L1034.4 1109.7 L1047.7 1109.7 L1061 1109.5 L1074.3 1109.9 L1087.6 1111.3 L1101 1113.8 L1114.3 1116.5 L1127.6 1117.9 L1140.9 1117.2 L1154.2 1115.4 L1167.5 1114.2 L1180.8 1115.2 L1194.1 1119.4 L1207.4 1127.5 L1220.7 1138.6 L1234 1150.3 L1247.3 1159.8 L1260.6 1163.1 L1273.9 1156.6 L1287.2 1141.9 L1303.3 1126.1 M113.8 1104.2 V1109.4 M1303.3 1087.5 V1126.1" fill="none" stroke="#737373" stroke-width="1" stroke-linejoin="round" stroke-linecap="round"/>
<g fill="#ff0000" fill-opacity="0.3">
<circle cx="113.8" cy="1104.4" r="6.0"/>
<circle cx="510.6" cy="1107.5" r="6.0"/>
<circle cx="949.6" cy="1107.5" r="6.0"/>
<circle cx="976.4" cy="1101.7" r="6.0"/>
<circle cx="992" cy="1104.6" r="6.0"/>
<circle cx="1042.9" cy="1108.7" r="6.0"/>
<circle cx="1093.8" cy="1106.9" r="6.0"/>
<circle cx="1121" cy="1098" r="6.0"/>
<circle cx="1124.4" cy="1102" r="6.0"/>
<circle cx="1131" cy="1097" r="6.0"/>
<circle cx="1140.7" cy="1102.4" r="6.0"/>
<circle cx="1163.8" cy="1106.5" r="6.0"/>
<circle cx="1187.7" cy="1114.4" r="6.0"/>
<circle cx="1210.4" cy="1091.9" r="6.0"/>
<circle cx="1220.4" cy="1093.1" r="6.0"/>
<circle cx="1233.5" cy="1085.6" r="6.0"/>
<circle cx="1248.1" cy="1069.2" r="6.0"/>
<circle cx="1258.3" cy="1087.9" r="6.0"/>
<circle cx="1263.8" cy="1083.8" r="6.0"/>
<circle cx="1265.2" cy="1093.1" r="6.0"/>
<circle cx="1271.5" cy="1092.5" r="6.0"/>
<circle cx="1279.4" cy="1091.9" r="6.0"/>
<circle cx="1303.3" cy="1110.2" r="6.0"/>
<circle cx="1270.8" cy="1111.7" r="6.0"/>
<circle cx="1257.3" cy="1116" r="6.0"/>
<circle cx="1233.5" cy="1116.5" r="6.0"/>
<circle cx="1231.2" cy="1120" r="6.0"/>
<circle cx="1239.6" cy="1122.3" r="6.0"/>
<circle cx="1215.2" cy="1127.5" r="6.0"/>
<circle cx="1220.4" cy="1128.5" r="6.0"/>
<circle cx="1246" cy="1130.4" r="6.0"/>
<circle cx="1232.5" cy="1134.8" r="6.0"/>
<circle cx="1238.8" cy="1143.5" r="6.0"/>
<circle cx="1250" cy="1148.1" r="6.0"/>
<circle cx="1248.1" cy="1156.5" r="6.0"/>
<circle cx="1260.4" cy="1140.4" r="6.0"/>
<circle cx="1262.1" cy="1149.2" r="6.0"/>
<circle cx="1270.4" cy="1156" r="6.0"/>
<circle cx="1275.2" cy="1148.8" r="6.0"/>
<circle cx="1263.5" cy="1124.2" r="6.0"/>
<circle cx="1274.6" cy="1128.3" r="6.0"/>
<circle cx="1278.3" cy="1120" r="6.0"/>
<circle cx="1281.5" cy="1118.5" r="6.0"/>
<circle cx="1279" cy="1121.5" r="6.0"/>
<circle cx="1268" cy="1123" r="6.0"/>
</g>
<line x1="1044" y1="1106.8" x2="1303.5" y2="1106.8" stroke="#808080" stroke-width="1.1"/>
<line x1="1170.4" y1="1106.8" x2="1265.2" y2="1106.8" stroke="#808080" stroke-width="4.6"/>
<circle cx="1238.5" cy="1106.8" r="5.6" fill="#fff" stroke="#808080" stroke-width="1.1"/>
<line x1="1172.2" y1="1294.9" x2="1172.2" y2="1106.8" stroke="#52e452" stroke-width="1.5" stroke-dasharray="10 6.6"/>
<path d="M1311 1388.3 V1012.7" fill="none" stroke="#959595" stroke-width="1.6"/>
<path d="M37.9 1388.3 H1311.7" fill="none" stroke="#444" stroke-width="1.15"/>
<path d="M38.4 1388.3 v-13 M462.6 1388.3 v-13 M886.8 1388.3 v-13 M1311 1106.8 h-13 M1311 1294.9 h-13" fill="none" stroke="#5a5a5a" stroke-width="1.05"/>
<g font-family="Liberation Sans, sans-serif" font-size="22.1" fill="#262626">
<text transform="translate(45.2 1399.3) rotate(-90)" x="-33.4" y="0" textLength="33.4" lengthAdjust="spacingAndGlyphs">0.2</text>
<text transform="translate(469.4 1399.3) rotate(-90)" x="-46.7" y="0" textLength="46.7" lengthAdjust="spacingAndGlyphs">0.15</text>
<text transform="translate(893.6 1399.3) rotate(-90)" x="-33.4" y="0" textLength="33.4" lengthAdjust="spacingAndGlyphs">0.1</text>
<text transform="translate(1317.8 1399.3) rotate(-90)" x="-46.7" y="0" textLength="46.7" lengthAdjust="spacingAndGlyphs">0.05</text>
<text font-size="23.5" transform="translate(1340.8 1294.4) rotate(-90)" x="-28.4" y="0" textLength="56.7" lengthAdjust="spacingAndGlyphs">POST</text>
<text font-size="23.5" transform="translate(1340.8 1106.3) rotate(-90)" x="-71.1" y="0" textLength="142.1" lengthAdjust="spacingAndGlyphs">PRE resected</text>
</g>
<text font-family="Liberation Sans, sans-serif" font-size="24.8" fill="#262626" transform="translate(673.7 1458.8) rotate(180)" x="-149.3" y="0" textLength="298.6" lengthAdjust="spacingAndGlyphs">max strength per subject</text>
<text font-family="Liberation Sans, sans-serif" font-weight="bold" font-size="31.6" fill="#000" transform="translate(26.5 1201.5) rotate(-90)" x="-25.3" y="0" textLength="50.5" lengthAdjust="spacingAndGlyphs">PLI</text>
<polygon points="1103.3,1791.9 1106.6,1792.1 1108.2,1792.5 1109.9,1792.9 1111.5,1793.4 1113.1,1793.8 1114.8,1794.2 1116.4,1794.3 1118.1,1794.3 1119.7,1794 1121.4,1793.4 1123,1792.6 1124.6,1791.5 1126.3,1790.2 1127.9,1788.9 1129.6,1787.5 1131.2,1786.1 1132.9,1785 1134.5,1784 1136.1,1783.3 1137.8,1782.9 1139.4,1782.8 1141.1,1782.9 1142.7,1783.2 1144.4,1783.6 1146,1783.9 1147.6,1784 1149.3,1783.8 1150.9,1783.2 1152.6,1782.1 1154.2,1780.5 1155.9,1778.3 1157.5,1775.7 1159.2,1772.7 1160.8,1769.3 1162.4,1765.7 1164.1,1762.1 1165.7,1758.5 1167.4,1755.1 1169,1752 1170.7,1749.4 1172.3,1747.2 1173.9,1745.6 1175.6,1744.7 1177.2,1744.3 1178.9,1744.5 1180.5,1745.4 1182.2,1746.7 1183.8,1748.5 1185.4,1750.7 1187.1,1753.1 1188.7,1755.8 1190.4,1758.6 1192,1761.4 1193.7,1764.3 1195.3,1767 1196.9,1769.8 1198.6,1772.4 1200.2,1775 1203.5,1777.5 1203.5,1823.7 1200.2,1826.2 1198.6,1828.8 1196.9,1831.4 1195.3,1834.2 1193.7,1836.9 1192,1839.8 1190.4,1842.6 1188.7,1845.4 1187.1,1848.1 1185.4,1850.5 1183.8,1852.7 1182.2,1854.5 1180.5,1855.8 1178.9,1856.7 1177.2,1856.9 1175.6,1856.5 1173.9,1855.6 1172.3,1854 1170.7,1851.8 1169,1849.2 1167.4,1846.1 1165.7,1842.7 1164.1,1839.1 1162.4,1835.5 1160.8,1831.9 1159.2,1828.5 1157.5,1825.5 1155.9,1822.9 1154.2,1820.7 1152.6,1819.1 1150.9,1818 1149.3,1817.4 1147.6,1817.2 1146,1817.3 1144.4,1817.6 1142.7,1818 1141.1,1818.3 1139.4,1818.4 1137.8,1818.3 1136.1,1817.9 1134.5,1817.2 1132.9,1816.2 1131.2,1815.1 1129.6,1813.7 1127.9,1812.3 1126.3,1811 1124.6,1809.7 1123,1808.6 1121.4,1807.8 1119.7,1807.2 1118.1,1806.9 1116.4,1806.9 1114.8,1807 1113.1,1807.4 1111.5,1807.8 1109.9,1808.3 1108.2,1808.7 1106.6,1809.1 1103.3,1809.3" fill="#0000ff" fill-opacity="0.3" stroke="none"/>
<path d="M1103.3 1791.9 L1106.6 1792.1 L1108.2 1792.5 L1109.9 1792.9 L1111.5 1793.4 L1113.1 1793.8 L1114.8 1794.2 L1116.4 1794.3 L1118.1 1794.3 L1119.7 1794 L1121.4 1793.4 L1123 1792.6 L1124.6 1791.5 L1126.3 1790.2 L1127.9 1788.9 L1129.6 1787.5 L1131.2 1786.1 L1132.9 1785 L1134.5 1784 L1136.1 1783.3 L1137.8 1782.9 L1139.4 1782.8 L1141.1 1782.9 L1142.7 1783.2 L1144.4 1783.6 L1146 1783.9 L1147.6 1784 L1149.3 1783.8 L1150.9 1783.2 L1152.6 1782.1 L1154.2 1780.5 L1155.9 1778.3 L1157.5 1775.7 L1159.2 1772.7 L1160.8 1769.3 L1162.4 1765.7 L1164.1 1762.1 L1165.7 1758.5 L1167.4 1755.1 L1169 1752 L1170.7 1749.4 L1172.3 1747.2 L1173.9 1745.6 L1175.6 1744.7 L1177.2 1744.3 L1178.9 1744.5 L1180.5 1745.4 L1182.2 1746.7 L1183.8 1748.5 L1185.4 1750.7 L1187.1 1753.1 L1188.7 1755.8 L1190.4 1758.6 L1192 1761.4 L1193.7 1764.3 L1195.3 1767 L1196.9 1769.8 L1198.6 1772.4 L1200.2 1775 L1203.5 1777.5 M1103.3 1809.3 L1106.6 1809.1 L1108.2 1808.7 L1109.9 1808.3 L1111.5 1807.8 L1113.1 1807.4 L1114.8 1807 L1116.4 1806.9 L1118.1 1806.9 L1119.7 1807.2 L1121.4 1807.8 L1123 1808.6 L1124.6 1809.7 L1126.3 1811 L1127.9 1812.3 L1129.6 1813.7 L1131.2 1815.1 L1132.9 1816.2 L1134.5 1817.2 L1136.1 1817.9 L1137.8 1818.3 L1139.4 1818.4 L1141.1 1818.3 L1142.7 1818 L1144.4 1817.6 L1146 1817.3 L1147.6 1817.2 L1149.3 1817.4 L1150.9 1818 L1152.6 1819.1 L1154.2 1820.7 L1155.9 1822.9 L1157.5 1825.5 L1159.2 1828.5 L1160.8 1831.9 L1162.4 1835.5 L1164.1 1839.1 L1165.7 1842.7 L1167.4 1846.1 L1169 1849.2 L1170.7 1851.8 L1172.3 1854 L1173.9 1855.6 L1175.6 1856.5 L1177.2 1856.9 L1178.9 1856.7 L1180.5 1855.8 L1182.2 1854.5 L1183.8 1852.7 L1185.4 1850.5 L1187.1 1848.1 L1188.7 1845.4 L1190.4 1842.6 L1192 1839.8 L1193.7 1836.9 L1195.3 1834.2 L1196.9 1831.4 L1198.6 1828.8 L1200.2 1826.2 L1203.5 1823.7 M1103.3 1791.9 V1809.3 M1203.5 1777.5 V1823.7" fill="none" stroke="#737373" stroke-width="1" stroke-linejoin="round" stroke-linecap="round"/>
<g fill="#0000ff" fill-opacity="0.3">
<circle cx="1103.3" cy="1796.4" r="6.0"/>
<circle cx="1140" cy="1802.2" r="6.0"/>
<circle cx="1135.4" cy="1809.9" r="6.0"/>
<circle cx="1163.8" cy="1787.5" r="6.0"/>
<circle cx="1186.7" cy="1761" r="6.0"/>
<circle cx="1181.6" cy="1774.1" r="6.0"/>
<circle cx="1195.7" cy="1781.7" r="6.0"/>
<circle cx="1203.5" cy="1781.3" r="6.0"/>
<circle cx="1184.1" cy="1807.8" r="6.0"/>
<circle cx="1174.5" cy="1812.2" r="6.0"/>
<circle cx="1165.8" cy="1814.7" r="6.0"/>
<circle cx="1172.5" cy="1824.8" r="6.0"/>
<circle cx="1176" cy="1826.2" r="6.0"/>
</g>
<line x1="1136.7" y1="1800.6" x2="1203.5" y2="1800.6" stroke="#808080" stroke-width="1.1"/>
<line x1="1157.4" y1="1800.6" x2="1185.5" y2="1800.6" stroke="#808080" stroke-width="4.6"/>
<circle cx="1174.5" cy="1800.6" r="5.6" fill="#fff" stroke="#808080" stroke-width="1.1"/>
<polygon points="143.2,1608.6 165.2,1609 178.1,1609.5 191.1,1610 204,1610.4 217,1610.7 229.9,1610.8 242.9,1610.8 255.9,1610.6 268.8,1610.3 281.8,1609.8 294.7,1609.3 307.7,1608.8 320.7,1608.6 333.6,1608.6 346.6,1609 359.5,1609.5 372.5,1610 385.4,1610.4 398.4,1610.7 411.4,1610.9 424.3,1610.9 437.3,1611 450.2,1611 463.2,1611 476.1,1610.9 489.1,1610.8 502.1,1610.6 515,1610.3 528,1609.8 540.9,1609.3 553.9,1608.8 566.9,1608.6 579.8,1608.6 592.8,1608.9 605.7,1609.3 618.7,1609.7 631.6,1609.8 644.6,1609.6 657.6,1609.3 670.5,1608.9 683.5,1608.5 696.4,1608.5 709.4,1608.6 722.4,1608.8 735.3,1609 748.3,1609 761.2,1608.8 774.2,1608.5 787.1,1608.5 800.1,1608.7 813.1,1609.1 826,1609.5 839,1609.8 851.9,1609.8 864.9,1609.3 877.9,1608.4 890.8,1607 903.8,1605.4 916.7,1604 929.7,1602.9 942.6,1602.3 955.6,1602.1 968.6,1601.7 981.5,1601.1 994.5,1600.1 1007.4,1598.6 1020.4,1596.8 1033.3,1594.8 1046.3,1592.7 1059.3,1590.6 1072.2,1588.3 1085.2,1585.5 1098.1,1581.7 1111.1,1576.8 1124.1,1570.6 1137,1564 1150,1558.1 1162.9,1554.7 1175.9,1555.2 1188.8,1560 1210.8,1568.5 1210.8,1653.5 1188.8,1662 1175.9,1666.8 1162.9,1667.3 1150,1663.9 1137,1658 1124.1,1651.4 1111.1,1645.2 1098.1,1640.3 1085.2,1636.5 1072.2,1633.7 1059.3,1631.4 1046.3,1629.3 1033.3,1627.2 1020.4,1625.2 1007.4,1623.4 994.5,1621.9 981.5,1620.9 968.6,1620.3 955.6,1619.9 942.6,1619.7 929.7,1619.1 916.7,1618 903.8,1616.6 890.8,1615 877.9,1613.6 864.9,1612.7 851.9,1612.2 839,1612.2 826,1612.5 813.1,1612.9 800.1,1613.3 787.1,1613.5 774.2,1613.5 761.2,1613.2 748.3,1613 735.3,1613 722.4,1613.2 709.4,1613.4 696.4,1613.5 683.5,1613.5 670.5,1613.1 657.6,1612.7 644.6,1612.4 631.6,1612.2 618.7,1612.3 605.7,1612.7 592.8,1613.1 579.8,1613.4 566.9,1613.4 553.9,1613.2 540.9,1612.7 528,1612.2 515,1611.7 502.1,1611.4 489.1,1611.2 476.1,1611.1 463.2,1611 450.2,1611 437.3,1611 424.3,1611.1 411.4,1611.1 398.4,1611.3 385.4,1611.6 372.5,1612 359.5,1612.5 346.6,1613 333.6,1613.4 320.7,1613.4 307.7,1613.2 294.7,1612.7 281.8,1612.2 268.8,1611.7 255.9,1611.4 242.9,1611.2 229.9,1611.2 217,1611.3 204,1611.6 191.1,1612 178.1,1612.5 165.2,1613 143.2,1613.4" fill="#ff0000" fill-opacity="0.3" stroke="none"/>
<path d="M217 1611 H255.9 M398.4 1611 H502.1" fill="none" stroke="#b4b4b4" stroke-width="1.1"/>
<path d="M143.2 1608.6 L165.2 1609 L178.1 1609.5 L191.1 1610 L204 1610.4 L217 1610.7 M143.2 1613.4 L165.2 1613 L178.1 1612.5 L191.1 1612 L204 1611.6 L217 1611.3 M255.9 1610.6 L268.8 1610.3 L281.8 1609.8 L294.7 1609.3 L307.7 1608.8 L320.7 1608.6 L333.6 1608.6 L346.6 1609 L359.5 1609.5 L372.5 1610 L385.4 1610.4 L398.4 1610.7 M255.9 1611.4 L268.8 1611.7 L281.8 1612.2 L294.7 1612.7 L307.7 1613.2 L320.7 1613.4 L333.6 1613.4 L346.6 1613 L359.5 1612.5 L372.5 1612 L385.4 1611.6 L398.4 1611.3 M502.1 1610.6 L515 1610.3 L528 1609.8 L540.9 1609.3 L553.9 1608.8 L566.9 1608.6 L579.8 1608.6 L592.8 1608.9 L605.7 1609.3 L618.7 1609.7 L631.6 1609.8 L644.6 1609.6 L657.6 1609.3 L670.5 1608.9 L683.5 1608.5 L696.4 1608.5 L709.4 1608.6 L722.4 1608.8 L735.3 1609 L748.3 1609 L761.2 1608.8 L774.2 1608.5 L787.1 1608.5 L800.1 1608.7 L813.1 1609.1 L826 1609.5 L839 1609.8 L851.9 1609.8 L864.9 1609.3 L877.9 1608.4 L890.8 1607 L903.8 1605.4 L916.7 1604 L929.7 1602.9 L942.6 1602.3 L955.6 1602.1 L968.6 1601.7 L981.5 1601.1 L994.5 1600.1 L1007.4 1598.6 L1020.4 1596.8 L1033.3 1594.8 L1046.3 1592.7 L1059.3 1590.6 L1072.2 1588.3 L1085.2 1585.5 L1098.1 1581.7 L1111.1 1576.8 L1124.1 1570.6 L1137 1564 L1150 1558.1 L1162.9 1554.7 L1175.9 1555.2 L1188.8 1560 L1210.8 1568.5 M502.1 1611.4 L515 1611.7 L528 1612.2 L540.9 1612.7 L553.9 1613.2 L566.9 1613.4 L579.8 1613.4 L592.8 1613.1 L605.7 1612.7 L618.7 1612.3 L631.6 1612.2 L644.6 1612.4 L657.6 1612.7 L670.5 1613.1 L683.5 1613.5 L696.4 1613.5 L709.4 1613.4 L722.4 1613.2 L735.3 1613 L748.3 1613 L761.2 1613.2 L774.2 1613.5 L787.1 1613.5 L800.1 1613.3 L813.1 1612.9 L826 1612.5 L839 1612.2 L851.9 1612.2 L864.9 1612.7 L877.9 1613.6 L890.8 1615 L903.8 1616.6 L916.7 1618 L929.7 1619.1 L942.6 1619.7 L955.6 1619.9 L968.6 1620.3 L981.5 1620.9 L994.5 1621.9 L1007.4 1623.4 L1020.4 1625.2 L1033.3 1627.2 L1046.3 1629.3 L1059.3 1631.4 L1072.2 1633.7 L1085.2 1636.5 L1098.1 1640.3 L1111.1 1645.2 L1124.1 1651.4 L1137 1658 L1150 1663.9 L1162.9 1667.3 L1175.9 1666.8 L1188.8 1662 L1210.8 1653.5 M143.2 1608.6 V1613.4 M1210.8 1568.5 V1653.5" fill="none" stroke="#737373" stroke-width="1" stroke-linejoin="round" stroke-linecap="round"/>
<g fill="#ff0000" fill-opacity="0.3">
<circle cx="143.2" cy="1612" r="6.0"/>
<circle cx="324.5" cy="1612" r="6.0"/>
<circle cx="571.4" cy="1609" r="6.0"/>
<circle cx="691.1" cy="1611" r="6.0"/>
<circle cx="787.3" cy="1610.7" r="6.0"/>
<circle cx="921" cy="1613.6" r="6.0"/>
<circle cx="928.8" cy="1617.9" r="6.0"/>
<circle cx="944.8" cy="1603.6" r="6.0"/>
<circle cx="990" cy="1602.9" r="6.0"/>
<circle cx="1003.6" cy="1612.9" r="6.0"/>
<circle cx="1025.2" cy="1603.6" r="6.0"/>
<circle cx="1038.8" cy="1596.9" r="6.0"/>
<circle cx="1056.7" cy="1601.4" r="6.0"/>
<circle cx="1061.2" cy="1620.4" r="6.0"/>
<circle cx="1067.9" cy="1617.1" r="6.0"/>
<circle cx="1076.2" cy="1632.2" r="6.0"/>
<circle cx="1088.7" cy="1607" r="6.0"/>
<circle cx="1104.7" cy="1635.6" r="6.0"/>
<circle cx="1108.5" cy="1586.9" r="6.0"/>
<circle cx="1119.9" cy="1581.8" r="6.0"/>
<circle cx="1131.5" cy="1572.4" r="6.0"/>
<circle cx="1138.7" cy="1571.3" r="6.0"/>
<circle cx="1133.3" cy="1595.2" r="6.0"/>
<circle cx="1131.5" cy="1645" r="6.0"/>
<circle cx="1137.1" cy="1645" r="6.0"/>
<circle cx="1162.8" cy="1563.9" r="6.0"/>
<circle cx="1172.1" cy="1572.4" r="6.0"/>
<circle cx="1167.9" cy="1583.1" r="6.0"/>
<circle cx="1171.7" cy="1593.2" r="6.0"/>
<circle cx="1172.1" cy="1594.7" r="6.0"/>
<circle cx="1182.9" cy="1572" r="6.0"/>
<circle cx="1185.5" cy="1566.8" r="6.0"/>
<circle cx="1194" cy="1586.9" r="6.0"/>
<circle cx="1179.5" cy="1613" r="6.0"/>
<circle cx="1210.8" cy="1609.9" r="6.0"/>
<circle cx="1194" cy="1620.4" r="6.0"/>
<circle cx="1203.4" cy="1633.8" r="6.0"/>
<circle cx="1171" cy="1629.3" r="6.0"/>
<circle cx="1161.2" cy="1634.9" r="6.0"/>
<circle cx="1182.9" cy="1638.3" r="6.0"/>
<circle cx="1156.5" cy="1646.1" r="6.0"/>
<circle cx="1192.9" cy="1647.2" r="6.0"/>
<circle cx="1180.6" cy="1653.2" r="6.0"/>
<circle cx="1182.9" cy="1655" r="6.0"/>
<circle cx="1161.2" cy="1664.4" r="6.0"/>
<circle cx="1173.3" cy="1663.9" r="6.0"/>
</g>
<line x1="922" y1="1611" x2="1211" y2="1611" stroke="#808080" stroke-width="1.1"/>
<line x1="1042.7" y1="1611" x2="1173.9" y2="1611" stroke="#808080" stroke-width="4.6"/>
<circle cx="1133.8" cy="1611" r="5.6" fill="#fff" stroke="#808080" stroke-width="1.1"/>
<line x1="1103.8" y1="1800.6" x2="1103.8" y2="1611" stroke="#52e452" stroke-width="1.5" stroke-dasharray="10 6.6"/>
<path d="M1311 1894 V1518.4" fill="none" stroke="#959595" stroke-width="1.6"/>
<path d="M37.9 1894 H1311.7" fill="none" stroke="#444" stroke-width="1.15"/>
<path d="M38.4 1894 v-13 M197.5 1894 v-13 M356.5 1894 v-13 M515.6 1894 v-13 M674.7 1894 v-13 M833.8 1894 v-13 M992.8 1894 v-13 M1151.9 1894 v-13 M1311 1611 h-13 M1311 1800.6 h-13" fill="none" stroke="#5a5a5a" stroke-width="1.05"/>
<g font-family="Liberation Sans, sans-serif" font-size="22.1" fill="#262626">
<text transform="translate(45.2 1905) rotate(-90)" x="-33.4" y="0" textLength="33.4" lengthAdjust="spacingAndGlyphs">0.4</text>
<text transform="translate(204.3 1905) rotate(-90)" x="-46.7" y="0" textLength="46.7" lengthAdjust="spacingAndGlyphs">0.35</text>
<text transform="translate(363.3 1905) rotate(-90)" x="-33.4" y="0" textLength="33.4" lengthAdjust="spacingAndGlyphs">0.3</text>
<text transform="translate(522.4 1905) rotate(-90)" x="-46.7" y="0" textLength="46.7" lengthAdjust="spacingAndGlyphs">0.25</text>
<text transform="translate(681.5 1905) rotate(-90)" x="-33.4" y="0" textLength="33.4" lengthAdjust="spacingAndGlyphs">0.2</text>
<text transform="translate(840.6 1905) rotate(-90)" x="-46.7" y="0" textLength="46.7" lengthAdjust="spacingAndGlyphs">0.15</text>
<text transform="translate(999.6 1905) rotate(-90)" x="-33.4" y="0" textLength="33.4" lengthAdjust="spacingAndGlyphs">0.1</text>
<text transform="translate(1158.7 1905) rotate(-90)" x="-46.7" y="0" textLength="46.7" lengthAdjust="spacingAndGlyphs">0.05</text>
<text transform="translate(1317.8 1905) rotate(-90)" x="-13.4" y="0" textLength="13.4" lengthAdjust="spacingAndGlyphs">0</text>
<text font-size="23.5" transform="translate(1340.8 1800.1) rotate(-90)" x="-28.4" y="0" textLength="56.7" lengthAdjust="spacingAndGlyphs">POST</text>
<text font-size="23.5" transform="translate(1340.8 1610.5) rotate(-90)" x="-71.1" y="0" textLength="142.1" lengthAdjust="spacingAndGlyphs">PRE resected</text>
</g>
<text font-family="Liberation Sans, sans-serif" font-size="24.8" fill="#262626" transform="translate(673.7 1965) rotate(180)" x="-122.8" y="0" textLength="245.5" lengthAdjust="spacingAndGlyphs">max PAC per subject</text>
<text font-family="Liberation Sans, sans-serif" font-weight="bold" font-size="31.6" fill="#000" transform="translate(26.5 1707.2) rotate(-90)" x="-32.5" y="0" textLength="65" lengthAdjust="spacingAndGlyphs">PAC</text>
<polygon points="1020.2,2297.5 1025.1,2297.8 1028.5,2298.5 1031.9,2299.3 1035.3,2300.3 1038.7,2301.3 1042.1,2302.3 1045.5,2303.2 1048.9,2303.9 1052.4,2304.5 1055.8,2305 1059.2,2305.3 1062.6,2305.5 1066,2305.6 1069.4,2305.6 1072.8,2305.6 1076.2,2305.5 1079.6,2305.4 1083.1,2305.1 1086.5,2304.7 1089.9,2304.2 1093.3,2303.6 1096.7,2302.7 1100.1,2301.8 1103.5,2300.8 1106.9,2299.7 1110.4,2298.7 1113.8,2297.9 1117.2,2297.2 1120.6,2296.8 1124,2296.6 1127.4,2296.5 1130.8,2296.5 1134.2,2296.3 1137.6,2295.9 1141.1,2295.2 1144.5,2294.2 1147.9,2292.9 1151.3,2291.6 1154.7,2290.2 1158.1,2289.1 1161.5,2288.3 1164.9,2287.9 1168.3,2288 1171.8,2288.4 1175.2,2289 1178.6,2289.8 1182,2290.5 1185.4,2291.1 1188.8,2291.5 1192.2,2291.6 1195.6,2291.4 1199.1,2290.9 1202.5,2290.1 1205.9,2288.7 1209.3,2286.8 1212.7,2284.3 1216.1,2281.1 1219.5,2277.2 1222.9,2272.7 1226.3,2267.8 1229.8,2262.7 1233.2,2258 1236.6,2254 1240,2251 1243.4,2249.5 1246.8,2249.6 1250.2,2251.5 1253.6,2254.9 1258.5,2259.7 1258.5,2351.9 1253.6,2356.7 1250.2,2360.1 1246.8,2362 1243.4,2362.1 1240,2360.6 1236.6,2357.6 1233.2,2353.6 1229.8,2348.9 1226.3,2343.8 1222.9,2338.9 1219.5,2334.4 1216.1,2330.5 1212.7,2327.3 1209.3,2324.8 1205.9,2322.9 1202.5,2321.5 1199.1,2320.7 1195.6,2320.2 1192.2,2320 1188.8,2320.1 1185.4,2320.5 1182,2321.1 1178.6,2321.8 1175.2,2322.6 1171.8,2323.2 1168.3,2323.6 1164.9,2323.7 1161.5,2323.3 1158.1,2322.5 1154.7,2321.4 1151.3,2320 1147.9,2318.7 1144.5,2317.4 1141.1,2316.4 1137.6,2315.7 1134.2,2315.3 1130.8,2315.1 1127.4,2315.1 1124,2315 1120.6,2314.8 1117.2,2314.4 1113.8,2313.7 1110.4,2312.9 1106.9,2311.9 1103.5,2310.8 1100.1,2309.8 1096.7,2308.9 1093.3,2308 1089.9,2307.4 1086.5,2306.9 1083.1,2306.5 1079.6,2306.2 1076.2,2306.1 1072.8,2306 1069.4,2306 1066,2306 1062.6,2306.1 1059.2,2306.3 1055.8,2306.6 1052.4,2307.1 1048.9,2307.7 1045.5,2308.4 1042.1,2309.3 1038.7,2310.3 1035.3,2311.3 1031.9,2312.3 1028.5,2313.1 1025.1,2313.8 1020.2,2314.1" fill="#0000ff" fill-opacity="0.3" stroke="none"/>
<path d="M1062.6 2305.8 H1079.6" fill="none" stroke="#b4b4b4" stroke-width="1.1"/>
<path d="M1020.2 2297.5 L1025.1 2297.8 L1028.5 2298.5 L1031.9 2299.3 L1035.3 2300.3 L1038.7 2301.3 L1042.1 2302.3 L1045.5 2303.2 L1048.9 2303.9 L1052.4 2304.5 L1055.8 2305 L1059.2 2305.3 L1062.6 2305.5 M1020.2 2314.1 L1025.1 2313.8 L1028.5 2313.1 L1031.9 2312.3 L1035.3 2311.3 L1038.7 2310.3 L1042.1 2309.3 L1045.5 2308.4 L1048.9 2307.7 L1052.4 2307.1 L1055.8 2306.6 L1059.2 2306.3 L1062.6 2306.1 M1079.6 2305.4 L1083.1 2305.1 L1086.5 2304.7 L1089.9 2304.2 L1093.3 2303.6 L1096.7 2302.7 L1100.1 2301.8 L1103.5 2300.8 L1106.9 2299.7 L1110.4 2298.7 L1113.8 2297.9 L1117.2 2297.2 L1120.6 2296.8 L1124 2296.6 L1127.4 2296.5 L1130.8 2296.5 L1134.2 2296.3 L1137.6 2295.9 L1141.1 2295.2 L1144.5 2294.2 L1147.9 2292.9 L1151.3 2291.6 L1154.7 2290.2 L1158.1 2289.1 L1161.5 2288.3 L1164.9 2287.9 L1168.3 2288 L1171.8 2288.4 L1175.2 2289 L1178.6 2289.8 L1182 2290.5 L1185.4 2291.1 L1188.8 2291.5 L1192.2 2291.6 L1195.6 2291.4 L1199.1 2290.9 L1202.5 2290.1 L1205.9 2288.7 L1209.3 2286.8 L1212.7 2284.3 L1216.1 2281.1 L1219.5 2277.2 L1222.9 2272.7 L1226.3 2267.8 L1229.8 2262.7 L1233.2 2258 L1236.6 2254 L1240 2251 L1243.4 2249.5 L1246.8 2249.6 L1250.2 2251.5 L1253.6 2254.9 L1258.5 2259.7 M1079.6 2306.2 L1083.1 2306.5 L1086.5 2306.9 L1089.9 2307.4 L1093.3 2308 L1096.7 2308.9 L1100.1 2309.8 L1103.5 2310.8 L1106.9 2311.9 L1110.4 2312.9 L1113.8 2313.7 L1117.2 2314.4 L1120.6 2314.8 L1124 2315 L1127.4 2315.1 L1130.8 2315.1 L1134.2 2315.3 L1137.6 2315.7 L1141.1 2316.4 L1144.5 2317.4 L1147.9 2318.7 L1151.3 2320 L1154.7 2321.4 L1158.1 2322.5 L1161.5 2323.3 L1164.9 2323.7 L1168.3 2323.6 L1171.8 2323.2 L1175.2 2322.6 L1178.6 2321.8 L1182 2321.1 L1185.4 2320.5 L1188.8 2320.1 L1192.2 2320 L1195.6 2320.2 L1199.1 2320.7 L1202.5 2321.5 L1205.9 2322.9 L1209.3 2324.8 L1212.7 2327.3 L1216.1 2330.5 L1219.5 2334.4 L1222.9 2338.9 L1226.3 2343.8 L1229.8 2348.9 L1233.2 2353.6 L1236.6 2357.6 L1240 2360.6 L1243.4 2362.1 L1246.8 2362 L1250.2 2360.1 L1253.6 2356.7 L1258.5 2351.9 M1020.2 2297.5 V2314.1 M1258.5 2259.7 V2351.9" fill="none" stroke="#737373" stroke-width="1" stroke-linejoin="round" stroke-linecap="round"/>
<g fill="#0000ff" fill-opacity="0.3">
<circle cx="1020.2" cy="2302" r="6.0"/>
<circle cx="1120.2" cy="2302" r="6.0"/>
<circle cx="1159.9" cy="2315.4" r="6.0"/>
<circle cx="1167" cy="2317.7" r="6.0"/>
<circle cx="1196.1" cy="2308.4" r="6.0"/>
<circle cx="1221.4" cy="2275.5" r="6.0"/>
<circle cx="1238.6" cy="2275.5" r="6.0"/>
<circle cx="1249.7" cy="2277.5" r="6.0"/>
<circle cx="1252.2" cy="2254.7" r="6.0"/>
<circle cx="1238.6" cy="2310.9" r="6.0"/>
<circle cx="1258.5" cy="2310.1" r="6.0"/>
<circle cx="1241.6" cy="2326.6" r="6.0"/>
<circle cx="1247.9" cy="2342" r="6.0"/>
</g>
<line x1="1120.2" y1="2305.8" x2="1259.3" y2="2305.8" stroke="#808080" stroke-width="1.1"/>
<line x1="1164.9" y1="2305.8" x2="1247.9" y2="2305.8" stroke="#808080" stroke-width="4.6"/>
<circle cx="1238.6" cy="2305.8" r="5.6" fill="#fff" stroke="#808080" stroke-width="1.1"/>
<polygon points="123.2,2115 138.4,2115.1 153.1,2115.4 167.7,2115.8 182.4,2116.1 197.1,2116.4 211.7,2116.4 226.4,2116.3 241.1,2116 255.7,2115.7 270.4,2115.3 285,2115.1 299.7,2115 314.4,2115.2 329,2115.5 343.7,2115.9 358.3,2116.3 373,2116.7 387.7,2116.9 402.3,2117 417,2116.9 431.7,2116.7 446.3,2116.4 461,2115.9 475.6,2115.4 490.3,2114.9 505,2114.5 519.6,2114.2 534.3,2113.9 549,2113.8 563.6,2113.8 578.3,2113.8 592.9,2113.8 607.6,2113.9 622.3,2114 636.9,2114.1 651.6,2114.2 666.2,2114.4 680.9,2114.7 695.6,2115.1 710.2,2115.5 724.9,2116 739.6,2116.4 754.2,2116.8 768.9,2117 783.5,2117.2 798.2,2117.3 812.9,2117.3 827.5,2117.3 842.2,2117.2 856.8,2117 871.5,2116.6 886.2,2116.1 900.8,2115.2 915.5,2114.1 930.2,2112.6 944.8,2111 959.5,2109.3 974.1,2107.7 988.8,2106.3 1003.5,2105.2 1018.1,2104.4 1032.8,2103.9 1047.5,2103.4 1062.1,2102.5 1076.8,2101 1091.4,2098.4 1106.1,2094.6 1120.8,2089.6 1135.4,2083.9 1150.1,2078 1164.7,2072.5 1179.4,2067.7 1194.1,2064 1208.7,2061.7 1223.4,2061.1 1238.1,2062.6 1252.7,2066.3 1267.4,2072.2 1282.6,2079.7 1282.6,2155.1 1267.4,2162.6 1252.7,2168.5 1238.1,2172.2 1223.4,2173.7 1208.7,2173.1 1194.1,2170.8 1179.4,2167.1 1164.7,2162.3 1150.1,2156.8 1135.4,2150.9 1120.8,2145.2 1106.1,2140.2 1091.4,2136.4 1076.8,2133.8 1062.1,2132.3 1047.5,2131.4 1032.8,2130.9 1018.1,2130.4 1003.5,2129.6 988.8,2128.5 974.1,2127.1 959.5,2125.5 944.8,2123.8 930.2,2122.2 915.5,2120.7 900.8,2119.6 886.2,2118.7 871.5,2118.2 856.8,2117.8 842.2,2117.6 827.5,2117.5 812.9,2117.5 798.2,2117.5 783.5,2117.6 768.9,2117.8 754.2,2118 739.6,2118.4 724.9,2118.8 710.2,2119.3 695.6,2119.7 680.9,2120.1 666.2,2120.4 651.6,2120.6 636.9,2120.7 622.3,2120.8 607.6,2120.9 592.9,2121 578.3,2121 563.6,2121 549,2121 534.3,2120.9 519.6,2120.6 505,2120.3 490.3,2119.9 475.6,2119.4 461,2118.9 446.3,2118.4 431.7,2118.1 417,2117.9 402.3,2117.8 387.7,2117.9 373,2118.1 358.3,2118.5 343.7,2118.9 329,2119.3 314.4,2119.6 299.7,2119.8 285,2119.7 270.4,2119.5 255.7,2119.1 241.1,2118.8 226.4,2118.5 211.7,2118.4 197.1,2118.4 182.4,2118.7 167.7,2119 153.1,2119.4 138.4,2119.7 123.2,2119.8" fill="#ff0000" fill-opacity="0.3" stroke="none"/>
<path d="M768.9 2117.4 H856.8" fill="none" stroke="#b4b4b4" stroke-width="1.1"/>
<path d="M123.2 2115 L138.4 2115.1 L153.1 2115.4 L167.7 2115.8 L182.4 2116.1 L197.1 2116.4 L211.7 2116.4 L226.4 2116.3 L241.1 2116 L255.7 2115.7 L270.4 2115.3 L285 2115.1 L299.7 2115 L314.4 2115.2 L329 2115.5 L343.7 2115.9 L358.3 2116.3 L373 2116.7 L387.7 2116.9 L402.3 2117 L417 2116.9 L431.7 2116.7 L446.3 2116.4 L461 2115.9 L475.6 2115.4 L490.3 2114.9 L505 2114.5 L519.6 2114.2 L534.3 2113.9 L549 2113.8 L563.6 2113.8 L578.3 2113.8 L592.9 2113.8 L607.6 2113.9 L622.3 2114 L636.9 2114.1 L651.6 2114.2 L666.2 2114.4 L680.9 2114.7 L695.6 2115.1 L710.2 2115.5 L724.9 2116 L739.6 2116.4 L754.2 2116.8 L768.9 2117 M123.2 2119.8 L138.4 2119.7 L153.1 2119.4 L167.7 2119 L182.4 2118.7 L197.1 2118.4 L211.7 2118.4 L226.4 2118.5 L241.1 2118.8 L255.7 2119.1 L270.4 2119.5 L285 2119.7 L299.7 2119.8 L314.4 2119.6 L329 2119.3 L343.7 2118.9 L358.3 2118.5 L373 2118.1 L387.7 2117.9 L402.3 2117.8 L417 2117.9 L431.7 2118.1 L446.3 2118.4 L461 2118.9 L475.6 2119.4 L490.3 2119.9 L505 2120.3 L519.6 2120.6 L534.3 2120.9 L549 2121 L563.6 2121 L578.3 2121 L592.9 2121 L607.6 2120.9 L622.3 2120.8 L636.9 2120.7 L651.6 2120.6 L666.2 2120.4 L680.9 2120.1 L695.6 2119.7 L710.2 2119.3 L724.9 2118.8 L739.6 2118.4 L754.2 2118 L768.9 2117.8 M856.8 2117 L871.5 2116.6 L886.2 2116.1 L900.8 2115.2 L915.5 2114.1 L930.2 2112.6 L944.8 2111 L959.5 2109.3 L974.1 2107.7 L988.8 2106.3 L1003.5 2105.2 L1018.1 2104.4 L1032.8 2103.9 L1047.5 2103.4 L1062.1 2102.5 L1076.8 2101 L1091.4 2098.4 L1106.1 2094.6 L1120.8 2089.6 L1135.4 2083.9 L1150.1 2078 L1164.7 2072.5 L1179.4 2067.7 L1194.1 2064 L1208.7 2061.7 L1223.4 2061.1 L1238.1 2062.6 L1252.7 2066.3 L1267.4 2072.2 L1282.6 2079.7 M856.8 2117.8 L871.5 2118.2 L886.2 2118.7 L900.8 2119.6 L915.5 2120.7 L930.2 2122.2 L944.8 2123.8 L959.5 2125.5 L974.1 2127.1 L988.8 2128.5 L1003.5 2129.6 L1018.1 2130.4 L1032.8 2130.9 L1047.5 2131.4 L1062.1 2132.3 L1076.8 2133.8 L1091.4 2136.4 L1106.1 2140.2 L1120.8 2145.2 L1135.4 2150.9 L1150.1 2156.8 L1164.7 2162.3 L1179.4 2167.1 L1194.1 2170.8 L1208.7 2173.1 L1223.4 2173.7 L1238.1 2172.2 L1252.7 2168.5 L1267.4 2162.6 L1282.6 2155.1 M123.2 2115 V2119.8 M1282.6 2079.7 V2155.1" fill="none" stroke="#737373" stroke-width="1" stroke-linejoin="round" stroke-linecap="round"/>
<g fill="#ff0000" fill-opacity="0.3">
<circle cx="123.2" cy="2117.5" r="6.0"/>
<circle cx="296.2" cy="2119" r="6.0"/>
<circle cx="512" cy="2117" r="6.0"/>
<circle cx="587.9" cy="2116" r="6.0"/>
<circle cx="673.5" cy="2118.5" r="6.0"/>
<circle cx="956.7" cy="2124.2" r="6.0"/>
<circle cx="988" cy="2125.2" r="6.0"/>
<circle cx="995.3" cy="2117.7" r="6.0"/>
<circle cx="1037.9" cy="2108.1" r="6.0"/>
<circle cx="1036" cy="2113.8" r="6.0"/>
<circle cx="1048.1" cy="2116.9" r="6.0"/>
<circle cx="1086.7" cy="2122.4" r="6.0"/>
<circle cx="1133.8" cy="2106.7" r="6.0"/>
<circle cx="1149.3" cy="2097.1" r="6.0"/>
<circle cx="1163.6" cy="2081.7" r="6.0"/>
<circle cx="1165.7" cy="2092.4" r="6.0"/>
<circle cx="1166.4" cy="2096" r="6.0"/>
<circle cx="1139" cy="2124" r="6.0"/>
<circle cx="1139.8" cy="2126.4" r="6.0"/>
<circle cx="1179.5" cy="2112.1" r="6.0"/>
<circle cx="1193.3" cy="2116.2" r="6.0"/>
<circle cx="1200.2" cy="2103.3" r="6.0"/>
<circle cx="1203.8" cy="2112.1" r="6.0"/>
<circle cx="1190" cy="2139" r="6.0"/>
<circle cx="1168.1" cy="2148.3" r="6.0"/>
<circle cx="1166.9" cy="2156.2" r="6.0"/>
<circle cx="1168.8" cy="2158.6" r="6.0"/>
<circle cx="1216.4" cy="2090.2" r="6.0"/>
<circle cx="1214.8" cy="2097.4" r="6.0"/>
<circle cx="1217.1" cy="2159.3" r="6.0"/>
<circle cx="1233.6" cy="2093.1" r="6.0"/>
<circle cx="1233.6" cy="2113.3" r="6.0"/>
<circle cx="1237.9" cy="2069.3" r="6.0"/>
<circle cx="1247.9" cy="2071" r="6.0"/>
<circle cx="1249.3" cy="2108.1" r="6.0"/>
<circle cx="1257.4" cy="2098.3" r="6.0"/>
<circle cx="1260.5" cy="2115.2" r="6.0"/>
<circle cx="1265.2" cy="2116.9" r="6.0"/>
<circle cx="1265.2" cy="2123.6" r="6.0"/>
<circle cx="1250.2" cy="2125.2" r="6.0"/>
<circle cx="1243.1" cy="2133.1" r="6.0"/>
<circle cx="1258.8" cy="2131.9" r="6.0"/>
<circle cx="1247.4" cy="2153.8" r="6.0"/>
<circle cx="1272.4" cy="2086" r="6.0"/>
<circle cx="1282.6" cy="2089" r="6.0"/>
<circle cx="1274" cy="2149.5" r="6.0"/>
</g>
<line x1="958" y1="2117.4" x2="1282.6" y2="2117.4" stroke="#808080" stroke-width="1.1"/>
<line x1="1098.6" y1="2117.4" x2="1246.2" y2="2117.4" stroke="#808080" stroke-width="4.6"/>
<circle cx="1180.2" cy="2117.4" r="5.6" fill="#fff" stroke="#808080" stroke-width="1.1"/>
<line x1="1020.4" y1="2305.8" x2="1020.4" y2="2117.4" stroke="#52e452" stroke-width="1.5" stroke-dasharray="10 6.6"/>
<path d="M1311 2399.6 V2024" fill="none" stroke="#959595" stroke-width="1.6"/>
<path d="M37.9 2399.6 H1311.7" fill="none" stroke="#444" stroke-width="1.15"/>
<path d="M38.4 2399.6 v-13 M179.8 2399.6 v-13 M321.2 2399.6 v-13 M462.6 2399.6 v-13 M604 2399.6 v-13 M745.4 2399.6 v-13 M886.8 2399.6 v-13 M1028.2 2399.6 v-13 M1169.6 2399.6 v-13 M1311 2117.4 h-13 M1311 2305.8 h-13" fill="none" stroke="#5a5a5a" stroke-width="1.05"/>
<g font-family="Liberation Sans, sans-serif" font-size="22.1" fill="#262626">
<text transform="translate(45.2 2410.6) rotate(-90)" x="-13.4" y="0" textLength="13.4" lengthAdjust="spacingAndGlyphs">2</text>
<text transform="translate(186.6 2410.6) rotate(-90)" x="-33.4" y="0" textLength="33.4" lengthAdjust="spacingAndGlyphs">1.8</text>
<text transform="translate(328 2410.6) rotate(-90)" x="-33.4" y="0" textLength="33.4" lengthAdjust="spacingAndGlyphs">1.6</text>
<text transform="translate(469.4 2410.6) rotate(-90)" x="-33.4" y="0" textLength="33.4" lengthAdjust="spacingAndGlyphs">1.4</text>
<text transform="translate(610.8 2410.6) rotate(-90)" x="-33.4" y="0" textLength="33.4" lengthAdjust="spacingAndGlyphs">1.2</text>
<text transform="translate(752.2 2410.6) rotate(-90)" x="-13.4" y="0" textLength="13.4" lengthAdjust="spacingAndGlyphs">1</text>
<text transform="translate(893.6 2410.6) rotate(-90)" x="-33.4" y="0" textLength="33.4" lengthAdjust="spacingAndGlyphs">0.8</text>
<text transform="translate(1035 2410.6) rotate(-90)" x="-33.4" y="0" textLength="33.4" lengthAdjust="spacingAndGlyphs">0.6</text>
<text transform="translate(1176.4 2410.6) rotate(-90)" x="-33.4" y="0" textLength="33.4" lengthAdjust="spacingAndGlyphs">0.4</text>
<text transform="translate(1317.8 2410.6) rotate(-90)" x="-33.4" y="0" textLength="33.4" lengthAdjust="spacingAndGlyphs">0.2</text>
<text font-size="23.5" transform="translate(1340.8 2305.3) rotate(-90)" x="-28.4" y="0" textLength="56.7" lengthAdjust="spacingAndGlyphs">POST</text>
<text font-size="23.5" transform="translate(1340.8 2116.9) rotate(-90)" x="-71.1" y="0" textLength="142.1" lengthAdjust="spacingAndGlyphs">PRE resected</text>
</g>
<text font-family="Liberation Sans, sans-serif" font-size="24.8" fill="#262626" transform="translate(673.7 2456.4) rotate(180)" x="-123.8" y="0" textLength="247.6" lengthAdjust="spacingAndGlyphs">max ARR per subject</text>
<text font-family="Liberation Sans, sans-serif" font-weight="bold" font-size="31.6" fill="#000" transform="translate(26.5 2212.8) rotate(-90)" x="-33.6" y="0" textLength="67.1" lengthAdjust="spacingAndGlyphs">ARR</text>
<path d="M126.8 1705.7 h32.4 M143 1689.7 v32 M131.7 1694.4 l22.6 22.6 M154.3 1694.4 l-22.6 22.6" stroke="#7e2f8e" stroke-width="1" fill="none" stroke-opacity="0.85"/>
</svg>
</body></html>
